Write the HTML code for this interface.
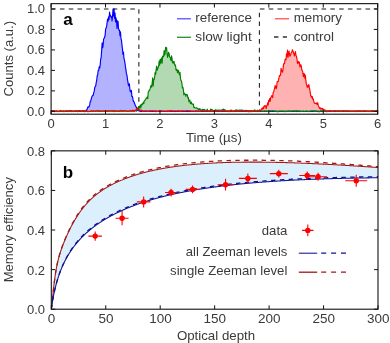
<!DOCTYPE html>
<html><head><meta charset="utf-8"><title>fig</title><style>html,body{margin:0;padding:0;background:#fff}</style></head><body>
<svg width="390" height="343" viewBox="0 0 390 343" style="display:block;will-change:transform">
<rect width="390" height="343" fill="#fff"/>
<defs><clipPath id="ca"><rect x="51.1" y="3.65" width="326.59999999999997" height="110.55"/></clipPath><clipPath id="cb"><rect x="51.3" y="150.85" width="326.7" height="158.35"/></clipPath></defs>
<g clip-path="url(#ca)">
<path d="M51.1,111.21 L51.6,111.17 L52.09,111.21 L52.59,111.32 L53.08,111.37 L53.58,111.41 L54.07,111.32 L54.57,111.28 L55.06,111.47 L55.56,111.49 L56.06,111.39 L56.55,111.43 L57.05,111.43 L57.54,111.47 L58.04,111.34 L58.53,111.3 L59.03,111.44 L59.53,111.38 L60.02,111.52 L60.52,111.51 L61.01,111.52 L61.51,111.4 L62,111.48 L62.5,111.36 L62.99,111.34 L63.49,111.38 L63.99,111.62 L64.48,111.46 L64.98,111.42 L65.47,111.33 L65.97,111.46 L66.46,111.34 L66.96,111.33 L67.45,111.25 L67.95,111.17 L68.45,111.36 L68.94,111.26 L69.44,111.19 L69.93,111.35 L70.43,111.32 L70.92,111.24 L71.42,111.23 L71.92,111.33 L72.41,111.22 L72.91,111.16 L73.4,111.43 L73.9,111.29 L74.39,111.35 L74.89,111.42 L75.38,111.15 L75.88,111.32 L76.38,111.46 L76.87,111.39 L77.37,111.38 L77.86,111.45 L78.36,111.34 L78.85,111.47 L79.35,111.36 L79.84,111.28 L80.34,111.41 L80.84,111.27 L81.33,111.26 L81.83,111.3 L82.32,111.44 L82.82,111.45 L83.31,111.49 L83.81,111.4 L84.31,111.38 L84.8,111.66 L85.3,111.33 L85.79,110.33 L86.29,111.05 L86.78,109.56 L87.28,108.83 L87.77,107.09 L88.27,106.86 L88.77,107.16 L89.26,106.27 L89.76,104.69 L90.25,101.23 L90.75,101.21 L91.24,98.95 L91.74,97.02 L92.23,96.15 L92.73,95.44 L93.23,95.51 L93.72,92.78 L94.22,91.17 L94.71,87.79 L95.21,86.48 L95.7,85.91 L96.2,82.6 L96.7,80.72 L97.19,75.62 L97.69,75.04 L98.18,70.28 L98.68,70.47 L99.17,66.72 L99.67,68.22 L100.16,65.37 L100.66,58.96 L101.16,57.82 L101.65,50.39 L102.15,42.81 L102.64,47.83 L103.14,45.05 L103.63,38.93 L104.13,38.32 L104.62,37.28 L105.12,35.24 L105.62,29.13 L106.11,27.92 L106.61,26.74 L107.1,22.68 L107.6,19.03 L108.09,21.14 L108.59,16.82 L109.09,19.36 L109.58,11.96 L110.08,15.91 L110.57,15.34 L111.07,17.49 L111.56,16.76 L112.06,20.82 L112.55,15.75 L113.05,9.44 L113.55,16 L114.04,8.59 L114.54,18.3 L115.03,13.13 L115.53,21.88 L116.02,17.92 L116.52,20.58 L117.01,28.35 L117.51,20.82 L118.01,21.41 L118.5,28 L119,30.29 L119.49,30.16 L119.99,35.58 L120.48,31.72 L120.98,38.76 L121.48,40.18 L121.97,45.14 L122.47,48.89 L122.96,54.46 L123.46,52.07 L123.95,58.35 L124.45,60.1 L124.94,62.81 L125.44,66.92 L125.94,69.57 L126.43,73.96 L126.93,74.79 L127.42,79.07 L127.92,81.81 L128.41,85.19 L128.91,85.85 L129.4,83.72 L129.9,89.7 L130.4,91.85 L130.89,91.37 L131.39,90.39 L131.88,96.46 L132.38,96.43 L132.87,98.74 L133.37,101.41 L133.87,101.38 L134.36,103.15 L134.86,104.02 L135.35,105.77 L135.85,106.18 L136.34,107.58 L136.84,108.41 L137.33,109.95 L137.83,110.41 L138.33,109.4 L138.82,110.72 L139.32,110.77 L139.81,111.16 L140.31,111.44 L140.8,111.42 L141.3,111.32 L141.79,111.38 L142.29,111.33 L142.79,111.36 L143.28,111.31 L143.78,111.37 L144.27,111.33 L144.77,111.42 L145.26,111.44 L145.76,111.23 L146.26,111.18 L146.75,111.33 L147.25,111.28 L147.74,111.23 L148.24,111.19 L148.73,111.22 L149.23,111.32 L149.72,111.14 L150.22,111.4 L150.72,111.27 L151.21,111.33 L151.71,111.31 L152.2,111.23 L152.7,111.29 L153.19,111.46 L153.69,111.45 L154.18,111.21 L154.68,111.39 L155.18,111.29 L155.67,111.2 L156.17,111.39 L156.66,111.44 L157.16,111.21 L157.65,111.21 L158.15,111.31 L158.65,111.32 L159.14,111.38 L159.64,111.42 L160.13,111.37 L160.63,111.4 L161.12,111.46 L161.62,111.3 L162.11,111.37 L162.61,111.35 L163.11,111.47 L163.6,111.41 L164.1,111.47 L164.59,111.46 L165.09,111.33 L165.58,111.43 L166.08,111.36 L166.57,111.36 L167.07,111.19 L167.57,111.42 L168.06,111.15 L168.56,111.24 L169.05,111.19 L169.55,111.33 L170.04,111.31 L170.54,111.23 L171.04,111.32 L171.53,111.3 L172.03,111.34 L172.52,111.18 L173.02,111.32 L173.51,111.48 L174.01,111.38 L174.5,111.46 L175,111.6 L175.5,111.37 L175.99,111.21 L176.49,111.38 L176.98,111.48 L177.48,111.44 L177.97,111.28 L178.47,111.35 L178.96,111.27 L179.46,111.31 L179.96,111.34 L180.45,111.29 L180.95,111.28 L181.44,111.37 L181.94,111.43 L182.43,111.3 L182.93,111.43 L183.43,111.28 L183.92,111.44 L184.42,111.41 L184.91,111.39 L185.41,111.45 L185.9,111.2 L186.4,111.23 L186.89,111.34 L187.39,111.21 L187.89,111.28 L188.38,111.55 L188.88,111.31 L189.37,111.36 L189.87,111.38 L190.36,111.46 L190.86,111.4 L191.35,111.41 L191.85,111.29 L192.35,111.32 L192.84,111.34 L193.34,111.19 L193.83,111.31 L194.33,111.27 L194.82,111.36 L195.32,111.11 L195.82,111.16 L196.31,111.21 L196.81,111.19 L197.3,111.25 L197.8,111.27 L198.29,111.36 L198.79,111.33 L199.28,111.34 L199.78,111.25 L200.28,111.27 L200.77,111.28 L201.27,111.33 L201.76,111.36 L202.26,111.16 L202.75,111.31 L203.25,111.35 L203.74,111.43 L204.24,111.46 L204.74,111.41 L205.23,111.29 L205.73,111.4 L206.22,111.39 L206.72,111.44 L207.21,111.45 L207.71,111.56 L208.21,111.45 L208.7,111.45 L209.2,111.28 L209.69,111.35 L210.19,111.24 L210.68,111.17 L211.18,111.34 L211.67,111.33 L212.17,111.3 L212.67,111.32 L213.16,111.41 L213.66,111.3 L214.15,111.23 L214.65,111.38 L215.14,111.38 L215.64,111.43 L216.13,111.34 L216.63,111.44 L217.13,111.44 L217.62,111.25 L218.12,111.38 L218.61,111.19 L219.11,111.11 L219.6,111.2 L220.1,111.18 L220.59,111.13 L221.09,111.31 L221.59,111.39 L222.08,111.47 L222.58,111.35 L223.07,111.27 L223.57,111.33 L224.06,111.55 L224.56,111.53 L225.06,111.52 L225.55,111.42 L226.05,111.46 L226.54,111.36 L227.04,111.4 L227.53,111.48 L228.03,111.47 L228.52,111.5 L229.02,111.56 L229.52,111.43 L230.01,111.29 L230.51,111.35 L231,111.38 L231.5,111.49 L231.99,111.37 L232.49,111.53 L232.98,111.49 L233.48,111.22 L233.98,111.23 L234.47,111.29 L234.97,111.44 L235.46,111.33 L235.96,111.41 L236.45,111.29 L236.95,111.16 L237.45,111.25 L237.94,111.41 L238.44,111.44 L238.93,111.35 L239.43,111.36 L239.92,111.51 L240.42,111.36 L240.91,111.5 L241.41,111.33 L241.91,111.26 L242.4,111.2 L242.9,111.36 L243.39,111.26 L243.89,111.33 L244.38,111.39 L244.88,111.44 L245.37,111.51 L245.87,111.47 L246.37,111.25 L246.86,111.37 L247.36,111.34 L247.85,111.3 L248.35,111.57 L248.84,111.58 L249.34,111.47 L249.84,111.44 L250.33,111.44 L250.83,111.26 L251.32,111.23 L251.82,111.4 L252.31,111.34 L252.81,111.18 L253.3,111.28 L253.8,111.53 L254.3,111.23 L254.79,111.36 L255.29,111.29 L255.78,111.48 L256.28,111.48 L256.77,111.55 L257.27,111.21 L257.76,111.47 L258.26,111.25 L258.76,111.41 L259.25,111.31 L259.75,111.51 L260.24,111.41 L260.74,111.32 L261.23,111.5 L261.73,111.33 L262.23,111.36 L262.72,111.49 L263.22,111.4 L263.71,111.39 L264.21,111.38 L264.7,111.34 L265.2,111.29 L265.69,111.3 L266.19,111.37 L266.69,111.3 L267.18,111.23 L267.68,111.21 L268.17,111.38 L268.67,111.27 L269.16,111.4 L269.66,111.47 L270.15,111.3 L270.65,111.42 L271.15,111.25 L271.64,111.46 L272.14,111.36 L272.63,111.45 L273.13,111.49 L273.62,111.34 L274.12,111.35 L274.62,111.28 L275.11,111.3 L275.61,111.37 L276.1,111.33 L276.6,111.33 L277.09,111.25 L277.59,111.44 L278.08,111.34 L278.58,111.47 L279.08,111.29 L279.57,111.46 L280.07,111.51 L280.56,111.4 L281.06,111.33 L281.55,111.49 L282.05,111.46 L282.54,111.48 L283.04,111.53 L283.54,111.45 L284.03,111.58 L284.53,111.52 L285.02,111.33 L285.52,111.46 L286.01,111.33 L286.51,111.39 L287.01,111.43 L287.5,111.5 L288,111.13 L288.49,111.22 L288.99,111.19 L289.48,111.22 L289.98,111.19 L290.47,111.21 L290.97,111.14 L291.47,111.45 L291.96,111.5 L292.46,111.49 L292.95,111.53 L293.45,111.34 L293.94,111.24 L294.44,111.41 L294.93,111.43 L295.43,111.34 L295.93,111.19 L296.42,111.57 L296.92,111.29 L297.41,111.44 L297.91,111.31 L298.4,111.52 L298.9,111.47 L299.4,111.55 L299.89,111.51 L300.39,111.28 L300.88,111.3 L301.38,111.41 L301.87,111.46 L302.37,111.52 L302.86,111.44 L303.36,111.44 L303.86,111.42 L304.35,111.46 L304.85,111.55 L305.34,111.41 L305.84,111.38 L306.33,111.34 L306.83,111.23 L307.32,111.39 L307.82,111.45 L308.32,111.43 L308.81,111.46 L309.31,111.49 L309.8,111.45 L310.3,111.52 L310.79,111.32 L311.29,111.35 L311.79,111.31 L312.28,111.3 L312.78,111.32 L313.27,111.33 L313.77,111.26 L314.26,111.27 L314.76,111.24 L315.25,111.27 L315.75,111.45 L316.25,111.36 L316.74,111.49 L317.24,111.43 L317.73,111.48 L318.23,111.61 L318.72,111.44 L319.22,111.4 L319.71,111.38 L320.21,111.36 L320.71,111.34 L321.2,111.41 L321.7,111.36 L322.19,111.42 L322.69,111.35 L323.18,111.4 L323.68,111.26 L324.18,111.32 L324.67,111.36 L325.17,111.44 L325.66,111.44 L326.16,111.59 L326.65,111.37 L327.15,111.4 L327.64,111.34 L328.14,111.27 L328.64,111.4 L329.13,111.39 L329.63,111.28 L330.12,111.31 L330.62,111.35 L331.11,111.44 L331.61,111.22 L332.1,111.13 L332.6,111.11 L333.1,111.18 L333.59,111.4 L334.09,111.23 L334.58,111.34 L335.08,111.59 L335.57,111.34 L336.07,111.46 L336.57,111.47 L337.06,111.38 L337.56,111.2 L338.05,111.35 L338.55,111.26 L339.04,111.09 L339.54,111.13 L340.03,111.36 L340.53,111.39 L341.03,111.51 L341.52,111.52 L342.02,111.44 L342.51,111.34 L343.01,111.36 L343.5,111.3 L344,111.36 L344.49,111.32 L344.99,111.33 L345.49,111.32 L345.98,111.23 L346.48,111.36 L346.97,111.39 L347.47,111.31 L347.96,111.46 L348.46,111.52 L348.96,111.29 L349.45,111.38 L349.95,111.33 L350.44,111.47 L350.94,111.29 L351.43,111.35 L351.93,111.32 L352.42,111.44 L352.92,111.29 L353.42,111.24 L353.91,111.24 L354.41,111.32 L354.9,111.27 L355.4,111.22 L355.89,111.54 L356.39,111.33 L356.88,111.3 L357.38,111.26 L357.88,111.15 L358.37,111.15 L358.87,111.19 L359.36,111.2 L359.86,111.24 L360.35,111.39 L360.85,111.42 L361.35,111.34 L361.84,111.28 L362.34,111.38 L362.83,111.32 L363.33,111.22 L363.82,111.14 L364.32,111.23 L364.81,111.15 L365.31,111.36 L365.81,111.34 L366.3,111.38 L366.8,111.3 L367.29,111.23 L367.79,111.49 L368.28,111.44 L368.78,111.34 L369.27,111.42 L369.77,111.51 L370.27,111.26 L370.76,111.29 L371.26,111.31 L371.75,111.36 L372.25,111.28 L372.74,111.36 L373.24,111.27 L373.74,111.46 L374.23,111.51 L374.73,111.4 L375.22,111.45 L375.72,111.33 L376.21,111.29 L376.71,111.4 L377.2,111.29 L377.7,111.31 L377.7,111.35 L51.1,111.35 Z" fill="#0000ff" fill-opacity="0.3"/>
<path d="M51.1,111.34 L51.6,110.89 L52.09,110.58 L52.59,110.99 L53.08,111.15 L53.58,111.36 L54.07,111.56 L54.57,111.01 L55.06,111.56 L55.56,111.32 L56.06,111.11 L56.55,111 L57.05,111.15 L57.54,111.24 L58.04,111.47 L58.53,111.58 L59.03,111.38 L59.53,111.51 L60.02,111.49 L60.52,111.45 L61.01,111.32 L61.51,111.57 L62,111.37 L62.5,111.4 L62.99,110.99 L63.49,111.08 L63.99,110.74 L64.48,111.49 L64.98,111.28 L65.47,110.95 L65.97,110.97 L66.46,110.96 L66.96,110.63 L67.45,111.16 L67.95,111.32 L68.45,111.55 L68.94,111.1 L69.44,111 L69.93,111.43 L70.43,111.47 L70.92,111.03 L71.42,111.13 L71.92,111.63 L72.41,111.24 L72.91,111.15 L73.4,111.68 L73.9,111.19 L74.39,110.87 L74.89,111.18 L75.38,111.51 L75.88,111.16 L76.38,111.15 L76.87,110.96 L77.37,111.72 L77.86,110.78 L78.36,111.36 L78.85,110.82 L79.35,110.73 L79.84,110.71 L80.34,110.82 L80.84,111.1 L81.33,110.79 L81.83,111 L82.32,111.47 L82.82,110.42 L83.31,111.05 L83.81,110.85 L84.31,111.5 L84.8,110.85 L85.3,110.85 L85.79,110.76 L86.29,111.08 L86.78,111.41 L87.28,111.38 L87.77,111.75 L88.27,111.76 L88.77,111.37 L89.26,111.54 L89.76,111.33 L90.25,111.39 L90.75,110.95 L91.24,110.96 L91.74,111.33 L92.23,110.92 L92.73,111.22 L93.23,111.05 L93.72,111.01 L94.22,111.28 L94.71,111.08 L95.21,111.39 L95.7,111.09 L96.2,110.63 L96.7,111.17 L97.19,110.95 L97.69,111.16 L98.18,111.15 L98.68,111.33 L99.17,110.65 L99.67,110.66 L100.16,111.15 L100.66,111.44 L101.16,111.08 L101.65,111.3 L102.15,111.04 L102.64,111 L103.14,110.95 L103.63,110.76 L104.13,111.14 L104.62,111.01 L105.12,111.25 L105.62,111.04 L106.11,111.35 L106.61,111.08 L107.1,111.38 L107.6,111.12 L108.09,111.12 L108.59,111.43 L109.09,111.24 L109.58,111.21 L110.08,111 L110.57,110.72 L111.07,110.95 L111.56,111.21 L112.06,110.81 L112.55,111.3 L113.05,110.71 L113.55,111.16 L114.04,111.76 L114.54,110.61 L115.03,110.89 L115.53,111.41 L116.02,111.1 L116.52,111.03 L117.01,111.21 L117.51,111.54 L118.01,111.45 L118.5,111.22 L119,111.15 L119.49,110.79 L119.99,111.02 L120.48,110.47 L120.98,111.14 L121.48,111.07 L121.97,111.39 L122.47,111.33 L122.96,110.68 L123.46,111.23 L123.95,110.95 L124.45,111.08 L124.94,111.17 L125.44,111.2 L125.94,111.22 L126.43,111.26 L126.93,111.09 L127.42,111.08 L127.92,111.36 L128.41,111.34 L128.91,111.03 L129.4,111.06 L129.9,110.88 L130.4,110.35 L130.89,110.72 L131.39,110.89 L131.88,110.91 L132.38,110.96 L132.87,111.13 L133.37,110.93 L133.87,110.66 L134.36,110.61 L134.86,110.29 L135.35,110.64 L135.85,110.62 L136.34,111.06 L136.84,108.97 L137.33,109.47 L137.83,107.56 L138.33,107.68 L138.82,106.64 L139.32,107.8 L139.81,106.4 L140.31,104.94 L140.8,108 L141.3,105.27 L141.79,104.01 L142.29,104.8 L142.79,103.5 L143.28,102.37 L143.78,103.66 L144.27,100.93 L144.77,100.8 L145.26,99.72 L145.76,99.04 L146.26,98.14 L146.75,98.33 L147.25,96.86 L147.74,98.69 L148.24,91.88 L148.73,91.52 L149.23,90.07 L149.72,90.18 L150.22,88.44 L150.72,86.29 L151.21,85.27 L151.71,87.12 L152.2,82.89 L152.7,77.77 L153.19,85.83 L153.69,79.48 L154.18,79.53 L154.68,76.76 L155.18,72.27 L155.67,74.48 L156.17,69.15 L156.66,66.05 L157.16,70.2 L157.65,68.81 L158.15,67.53 L158.65,66.3 L159.14,61.16 L159.64,65.1 L160.13,59.44 L160.63,63.25 L161.12,59.1 L161.62,57.84 L162.11,63.1 L162.61,56.05 L163.11,56.91 L163.6,56.5 L164.1,50.61 L164.59,54.98 L165.09,54.02 L165.58,47.29 L166.08,49.88 L166.57,47.55 L167.07,53.09 L167.57,57.45 L168.06,55.66 L168.56,52.26 L169.05,53.37 L169.55,57.03 L170.04,57.13 L170.54,58.85 L171.04,60.61 L171.53,55.83 L172.03,58.36 L172.52,62.81 L173.02,63.14 L173.51,61.49 L174.01,61.38 L174.5,64.2 L175,65.49 L175.5,65 L175.99,69.77 L176.49,70.38 L176.98,69.37 L177.48,72.69 L177.97,70.91 L178.47,70.35 L178.96,73.25 L179.46,74.91 L179.96,72.31 L180.45,78.1 L180.95,80.76 L181.44,80.83 L181.94,83.69 L182.43,88.04 L182.93,87.31 L183.43,90.15 L183.92,94.88 L184.42,93.29 L184.91,93.94 L185.41,94.24 L185.9,96.3 L186.4,94.29 L186.89,94.76 L187.39,94.79 L187.89,98.16 L188.38,97.5 L188.88,101.59 L189.37,100.9 L189.87,99.95 L190.36,103.51 L190.86,103.42 L191.35,102.1 L191.85,103.95 L192.35,104.34 L192.84,104.14 L193.34,103.99 L193.83,107.47 L194.33,107.15 L194.82,107.81 L195.32,107.96 L195.82,107.98 L196.31,107.93 L196.81,107.66 L197.3,108.81 L197.8,108.64 L198.29,108.81 L198.79,110.14 L199.28,109.55 L199.78,108.62 L200.28,109.47 L200.77,110.41 L201.27,109.87 L201.76,110.07 L202.26,109.69 L202.75,109.27 L203.25,110.1 L203.74,109.83 L204.24,109.35 L204.74,110.25 L205.23,110.11 L205.73,110.76 L206.22,110.82 L206.72,110.6 L207.21,109.11 L207.71,110.45 L208.21,111.01 L208.7,111.05 L209.2,111.21 L209.69,110.77 L210.19,110.73 L210.68,109.16 L211.18,110.16 L211.67,109.28 L212.17,109.93 L212.67,110.06 L213.16,111.21 L213.66,110.66 L214.15,110.42 L214.65,110.49 L215.14,111.18 L215.64,109.67 L216.13,110.13 L216.63,110.38 L217.13,110.23 L217.62,110.24 L218.12,109.87 L218.61,110.79 L219.11,110.74 L219.6,109.98 L220.1,110.23 L220.59,110.57 L221.09,110.33 L221.59,110.17 L222.08,110 L222.58,109.45 L223.07,110.08 L223.57,109.07 L224.06,109.48 L224.56,110.19 L225.06,109.79 L225.55,111.38 L226.05,111.5 L226.54,111.33 L227.04,110.95 L227.53,110.88 L228.03,110.99 L228.52,110.83 L229.02,111.76 L229.52,110.77 L230.01,111.28 L230.51,110.32 L231,110.04 L231.5,110.24 L231.99,110.61 L232.49,111.13 L232.98,111.2 L233.48,111.1 L233.98,110.88 L234.47,111.35 L234.97,110.68 L235.46,110.63 L235.96,109.92 L236.45,110.93 L236.95,109.77 L237.45,110.66 L237.94,111.02 L238.44,110.42 L238.93,110.15 L239.43,110.19 L239.92,110 L240.42,110.18 L240.91,109.99 L241.41,110.16 L241.91,110.85 L242.4,109.98 L242.9,110.59 L243.39,110.48 L243.89,110.88 L244.38,110.64 L244.88,110.29 L245.37,111.16 L245.87,110.37 L246.37,110.57 L246.86,110.52 L247.36,111.57 L247.85,110.86 L248.35,110.55 L248.84,111.23 L249.34,110.84 L249.84,111.72 L250.33,110.53 L250.83,111.31 L251.32,110.64 L251.82,111.76 L252.31,111.13 L252.81,111.18 L253.3,110.68 L253.8,111.24 L254.3,111.07 L254.79,109.77 L255.29,111.16 L255.78,111.09 L256.28,110.9 L256.77,111.13 L257.27,110.38 L257.76,110.22 L258.26,111.14 L258.76,111.56 L259.25,110.5 L259.75,111.03 L260.24,110.98 L260.74,110.75 L261.23,111.21 L261.73,111.02 L262.23,111.19 L262.72,111.41 L263.22,111.08 L263.71,111.45 L264.21,110.77 L264.7,111.27 L265.2,111.29 L265.69,111.02 L266.19,110.76 L266.69,111.16 L267.18,111.49 L267.68,111.21 L268.17,111 L268.67,111.34 L269.16,111.23 L269.66,110.81 L270.15,110.88 L270.65,111.03 L271.15,110.87 L271.64,110.97 L272.14,110.73 L272.63,110.79 L273.13,110.64 L273.62,110.79 L274.12,111.35 L274.62,111.01 L275.11,110.95 L275.61,111.2 L276.1,111.14 L276.6,111.63 L277.09,111.72 L277.59,111.28 L278.08,111.66 L278.58,111.76 L279.08,110.94 L279.57,111.29 L280.07,111.1 L280.56,111.07 L281.06,111.19 L281.55,111.14 L282.05,110.96 L282.54,110.89 L283.04,111.5 L283.54,110.85 L284.03,111.35 L284.53,111.42 L285.02,111.14 L285.52,111.37 L286.01,111.72 L286.51,111.05 L287.01,111.51 L287.5,111.24 L288,111.21 L288.49,111 L288.99,111.36 L289.48,111.14 L289.98,111.49 L290.47,111.18 L290.97,111.37 L291.47,111.24 L291.96,110.73 L292.46,111.06 L292.95,111.01 L293.45,110.67 L293.94,110.98 L294.44,111.19 L294.93,110.86 L295.43,111.3 L295.93,110.76 L296.42,110.75 L296.92,111.08 L297.41,111.07 L297.91,110.85 L298.4,110.91 L298.9,111.1 L299.4,110.85 L299.89,111.55 L300.39,111.19 L300.88,111.19 L301.38,111.33 L301.87,111.22 L302.37,111.45 L302.86,111.03 L303.36,111.16 L303.86,111.28 L304.35,111.38 L304.85,111.31 L305.34,111 L305.84,111.38 L306.33,111.22 L306.83,111.05 L307.32,111.05 L307.82,111.1 L308.32,111.56 L308.81,111.53 L309.31,110.99 L309.8,111.24 L310.3,110.97 L310.79,111.09 L311.29,110.71 L311.79,110.87 L312.28,110.78 L312.78,110.83 L313.27,110.77 L313.77,111.01 L314.26,110.99 L314.76,110.86 L315.25,111.36 L315.75,110.8 L316.25,111.16 L316.74,111.03 L317.24,111.19 L317.73,111.21 L318.23,110.97 L318.72,111.46 L319.22,111.65 L319.71,111.56 L320.21,111.29 L320.71,110.72 L321.2,111.06 L321.7,110.83 L322.19,111.31 L322.69,111.09 L323.18,111.06 L323.68,110.79 L324.18,111.31 L324.67,110.97 L325.17,111.13 L325.66,111.33 L326.16,111.25 L326.65,111.29 L327.15,111.72 L327.64,111.08 L328.14,111.04 L328.64,111.14 L329.13,111.41 L329.63,110.75 L330.12,110.96 L330.62,110.89 L331.11,110.85 L331.61,111.26 L332.1,111.09 L332.6,111.3 L333.1,111.14 L333.59,111.05 L334.09,111 L334.58,110.63 L335.08,110.82 L335.57,110.96 L336.07,111.03 L336.57,110.86 L337.06,111.06 L337.56,110.96 L338.05,110.97 L338.55,111.05 L339.04,111.01 L339.54,111.3 L340.03,110.98 L340.53,110.97 L341.03,111.18 L341.52,111.2 L342.02,110.65 L342.51,110.72 L343.01,110.87 L343.5,110.78 L344,110.89 L344.49,110.75 L344.99,111.09 L345.49,110.63 L345.98,111.39 L346.48,110.99 L346.97,111.33 L347.47,110.88 L347.96,111.32 L348.46,111.2 L348.96,111.13 L349.45,111.13 L349.95,111.43 L350.44,111.41 L350.94,111.58 L351.43,111.12 L351.93,111.05 L352.42,111.3 L352.92,111.29 L353.42,111.24 L353.91,111.3 L354.41,111.12 L354.9,110.92 L355.4,111.53 L355.89,111.09 L356.39,111.18 L356.88,111 L357.38,111.18 L357.88,111.08 L358.37,111.28 L358.87,111.04 L359.36,111.11 L359.86,111.2 L360.35,111.18 L360.85,111.35 L361.35,111.53 L361.84,111.12 L362.34,111.15 L362.83,111.26 L363.33,111.04 L363.82,110.97 L364.32,111.39 L364.81,111.28 L365.31,110.79 L365.81,110.92 L366.3,111.37 L366.8,111.45 L367.29,111.27 L367.79,111.12 L368.28,111.29 L368.78,110.92 L369.27,111.28 L369.77,111.52 L370.27,110.94 L370.76,111.19 L371.26,111.07 L371.75,110.83 L372.25,110.56 L372.74,110.96 L373.24,110.82 L373.74,111.12 L374.23,110.73 L374.73,110.98 L375.22,111.25 L375.72,111.08 L376.21,110.84 L376.71,110.79 L377.2,110.65 L377.7,110.74 L377.7,111.35 L51.1,111.35 Z" fill="#008000" fill-opacity="0.3"/>
<path d="M51.1,110.97 L51.6,110.82 L52.09,110.99 L52.59,110.86 L53.08,111.2 L53.58,110.88 L54.07,110.59 L54.57,111.13 L55.06,111.17 L55.56,111.05 L56.06,111.04 L56.55,111.14 L57.05,111.54 L57.54,111.1 L58.04,111.31 L58.53,111.36 L59.03,110.97 L59.53,111.05 L60.02,110.87 L60.52,110.42 L61.01,110.74 L61.51,110.88 L62,111.05 L62.5,111.06 L62.99,111.2 L63.49,111.06 L63.99,111.19 L64.48,111.25 L64.98,111.08 L65.47,111.07 L65.97,111.25 L66.46,111.18 L66.96,110.81 L67.45,110.9 L67.95,110.94 L68.45,110.86 L68.94,111.1 L69.44,110.93 L69.93,111.25 L70.43,110.44 L70.92,110.64 L71.42,110.88 L71.92,111.15 L72.41,110.94 L72.91,111.4 L73.4,111.25 L73.9,110.99 L74.39,111.09 L74.89,111.09 L75.38,110.72 L75.88,111.07 L76.38,110.82 L76.87,110.92 L77.37,111 L77.86,110.87 L78.36,111.1 L78.85,110.62 L79.35,111.05 L79.84,110.72 L80.34,111.26 L80.84,111 L81.33,111.28 L81.83,111.31 L82.32,110.91 L82.82,110.86 L83.31,111.11 L83.81,110.75 L84.31,111.08 L84.8,110.99 L85.3,110.93 L85.79,110.95 L86.29,111.27 L86.78,110.81 L87.28,110.97 L87.77,111.25 L88.27,111.29 L88.77,111.55 L89.26,111.47 L89.76,111.24 L90.25,111.21 L90.75,111.51 L91.24,111.27 L91.74,110.87 L92.23,111.22 L92.73,111.38 L93.23,110.91 L93.72,111.09 L94.22,111.08 L94.71,111.11 L95.21,111.26 L95.7,111.25 L96.2,111.1 L96.7,110.99 L97.19,110.84 L97.69,110.8 L98.18,110.87 L98.68,110.94 L99.17,111.19 L99.67,111.48 L100.16,111.25 L100.66,111.3 L101.16,111.23 L101.65,111.13 L102.15,111.38 L102.64,111.28 L103.14,111.05 L103.63,111.05 L104.13,111.35 L104.62,110.97 L105.12,111.02 L105.62,111.26 L106.11,111.1 L106.61,110.67 L107.1,111.07 L107.6,110.85 L108.09,110.89 L108.59,110.69 L109.09,111.18 L109.58,110.69 L110.08,111.01 L110.57,110.97 L111.07,111.08 L111.56,110.83 L112.06,110.91 L112.55,111.08 L113.05,110.85 L113.55,111.08 L114.04,111.24 L114.54,111.08 L115.03,110.97 L115.53,110.85 L116.02,111.35 L116.52,110.97 L117.01,111.02 L117.51,110.81 L118.01,111.33 L118.5,111.11 L119,111.19 L119.49,111.41 L119.99,111.15 L120.48,110.81 L120.98,111.06 L121.48,111.05 L121.97,110.73 L122.47,110.73 L122.96,110.72 L123.46,110.92 L123.95,110.74 L124.45,110.57 L124.94,110.97 L125.44,110.96 L125.94,110.75 L126.43,110.71 L126.93,111.29 L127.42,111.55 L127.92,111.47 L128.41,111.38 L128.91,111.16 L129.4,111 L129.9,110.95 L130.4,111.12 L130.89,110.94 L131.39,111.22 L131.88,110.89 L132.38,111.16 L132.87,110.12 L133.37,110.77 L133.87,111.55 L134.36,111.34 L134.86,110.78 L135.35,110.68 L135.85,109.73 L136.34,109.33 L136.84,108.27 L137.33,109.14 L137.83,109.51 L138.33,110 L138.82,110.19 L139.32,109.93 L139.81,110.2 L140.31,110 L140.8,110.84 L141.3,110.08 L141.79,110.55 L142.29,110.77 L142.79,111.52 L143.28,111.42 L143.78,111.12 L144.27,111.11 L144.77,111.31 L145.26,111.01 L145.76,111.27 L146.26,111.26 L146.75,111.24 L147.25,110.91 L147.74,111.15 L148.24,111.23 L148.73,111.11 L149.23,110.89 L149.72,110.95 L150.22,111.07 L150.72,110.66 L151.21,111.05 L151.71,111.07 L152.2,110.9 L152.7,110.95 L153.19,111 L153.69,110.82 L154.18,111.23 L154.68,111.15 L155.18,111.55 L155.67,110.95 L156.17,111.54 L156.66,110.93 L157.16,111.2 L157.65,111.2 L158.15,111.12 L158.65,111.07 L159.14,111.1 L159.64,110.83 L160.13,110.97 L160.63,110.87 L161.12,111.2 L161.62,111.04 L162.11,111.17 L162.61,111.31 L163.11,111.27 L163.6,111.23 L164.1,111.1 L164.59,111 L165.09,111.18 L165.58,111.2 L166.08,110.96 L166.57,111.4 L167.07,111.24 L167.57,110.9 L168.06,111.55 L168.56,111.35 L169.05,110.99 L169.55,111.41 L170.04,110.5 L170.54,111.36 L171.04,110.64 L171.53,110.77 L172.03,110.94 L172.52,111.14 L173.02,111.01 L173.51,111.17 L174.01,110.74 L174.5,111.05 L175,111 L175.5,110.78 L175.99,111.17 L176.49,111.05 L176.98,110.92 L177.48,111.17 L177.97,110.77 L178.47,110.98 L178.96,111.4 L179.46,111.1 L179.96,111.37 L180.45,111.31 L180.95,111.02 L181.44,111.13 L181.94,110.95 L182.43,111.13 L182.93,110.73 L183.43,111.07 L183.92,110.85 L184.42,111.03 L184.91,111.05 L185.41,111.05 L185.9,110.72 L186.4,110.73 L186.89,110.55 L187.39,110.65 L187.89,111.01 L188.38,111.05 L188.88,110.9 L189.37,111.03 L189.87,110.75 L190.36,110.89 L190.86,111.28 L191.35,111.35 L191.85,110.92 L192.35,111.19 L192.84,111.27 L193.34,111.09 L193.83,111.28 L194.33,111.22 L194.82,111.27 L195.32,111.55 L195.82,111.03 L196.31,111.36 L196.81,111.4 L197.3,111.39 L197.8,111.18 L198.29,111.3 L198.79,111.29 L199.28,111.48 L199.78,111.16 L200.28,111.36 L200.77,110.9 L201.27,110.89 L201.76,110.85 L202.26,110.57 L202.75,110.85 L203.25,110.89 L203.74,111.04 L204.24,111.19 L204.74,110.88 L205.23,110.86 L205.73,111.31 L206.22,110.88 L206.72,110.93 L207.21,110.91 L207.71,110.89 L208.21,111.29 L208.7,111.22 L209.2,110.64 L209.69,110.83 L210.19,111.13 L210.68,110.73 L211.18,111.08 L211.67,111.36 L212.17,111.52 L212.67,111.42 L213.16,111.13 L213.66,111.11 L214.15,111.23 L214.65,111.08 L215.14,110.94 L215.64,111.45 L216.13,111.1 L216.63,111.07 L217.13,111.24 L217.62,111.07 L218.12,110.96 L218.61,110.98 L219.11,111.22 L219.6,110.89 L220.1,110.65 L220.59,111.12 L221.09,111.19 L221.59,110.81 L222.08,110.88 L222.58,110.91 L223.07,111.26 L223.57,110.81 L224.06,111.09 L224.56,111.03 L225.06,110.79 L225.55,110.75 L226.05,110.69 L226.54,110.85 L227.04,111.12 L227.53,111.01 L228.03,111.3 L228.52,111.11 L229.02,111.51 L229.52,111.33 L230.01,110.85 L230.51,111.11 L231,110.89 L231.5,110.93 L231.99,111.19 L232.49,111.34 L232.98,110.89 L233.48,111.55 L233.98,110.98 L234.47,110.69 L234.97,110.93 L235.46,111 L235.96,110.88 L236.45,110.66 L236.95,111.24 L237.45,111.06 L237.94,111.08 L238.44,111.02 L238.93,111.11 L239.43,110.91 L239.92,111.17 L240.42,111.07 L240.91,111.14 L241.41,111.02 L241.91,110.89 L242.4,110.79 L242.9,110.99 L243.39,110.57 L243.89,110.97 L244.38,111.26 L244.88,110.76 L245.37,111.06 L245.87,110.64 L246.37,110.67 L246.86,110.65 L247.36,110.7 L247.85,110.91 L248.35,110.95 L248.84,110.67 L249.34,111.39 L249.84,111.1 L250.33,111.01 L250.83,111.36 L251.32,111.28 L251.82,110.77 L252.31,111.11 L252.81,110.79 L253.3,111.01 L253.8,111.09 L254.3,111.01 L254.79,111.02 L255.29,110.86 L255.78,111.11 L256.28,111.21 L256.77,111.13 L257.27,110.99 L257.76,111.02 L258.26,111.26 L258.76,111.27 L259.25,110.6 L259.75,110.77 L260.24,110.19 L260.74,110.39 L261.23,109.46 L261.73,108.58 L262.23,108.15 L262.72,109.27 L263.22,107.07 L263.71,108.43 L264.21,105.76 L264.7,106.12 L265.2,105.63 L265.69,106.37 L266.19,108.54 L266.69,105.68 L267.18,105.43 L267.68,102.85 L268.17,105.06 L268.67,100.42 L269.16,101.38 L269.66,98.67 L270.15,101.36 L270.65,97.83 L271.15,97.03 L271.64,95.67 L272.14,96.05 L272.63,97.58 L273.13,92.82 L273.62,91.7 L274.12,90.17 L274.62,88.32 L275.11,85.6 L275.61,86.16 L276.1,88.65 L276.6,87.98 L277.09,81.7 L277.59,81.59 L278.08,81.56 L278.58,79.62 L279.08,77.34 L279.57,75.46 L280.07,75.64 L280.56,75.15 L281.06,68.34 L281.55,70.01 L282.05,71.2 L282.54,72.22 L283.04,68.86 L283.54,64.46 L284.03,63.29 L284.53,63.58 L285.02,59.7 L285.52,59.09 L286.01,59.8 L286.51,53.73 L287.01,56.26 L287.5,50.18 L288,57.48 L288.49,53.84 L288.99,50.98 L289.48,53.8 L289.98,56.27 L290.47,55.22 L290.97,53.54 L291.47,52.56 L291.96,51.45 L292.46,49.72 L292.95,51.3 L293.45,52.42 L293.94,53.98 L294.44,55.99 L294.93,53.7 L295.43,51.51 L295.93,55.38 L296.42,56.33 L296.92,58.51 L297.41,62.84 L297.91,63.66 L298.4,61.44 L298.9,62.49 L299.4,62.22 L299.89,67.03 L300.39,65.91 L300.88,64.67 L301.38,66.7 L301.87,70.36 L302.37,70.68 L302.86,72.38 L303.36,76.75 L303.86,73.53 L304.35,74 L304.85,78.06 L305.34,75.04 L305.84,80.44 L306.33,83.93 L306.83,85.49 L307.32,87.42 L307.82,85.54 L308.32,86.9 L308.81,84.47 L309.31,87.38 L309.8,89.65 L310.3,93.02 L310.79,96.06 L311.29,96 L311.79,97.63 L312.28,96.51 L312.78,99.36 L313.27,98.9 L313.77,101.19 L314.26,102.74 L314.76,103.37 L315.25,103.55 L315.75,103.39 L316.25,102.91 L316.74,104.28 L317.24,104.32 L317.73,102.69 L318.23,105.49 L318.72,106.45 L319.22,107.45 L319.71,108.63 L320.21,107.69 L320.71,108.91 L321.2,108.96 L321.7,108.54 L322.19,108.27 L322.69,110.04 L323.18,109.1 L323.68,109.55 L324.18,109.68 L324.67,109.94 L325.17,110.5 L325.66,110.37 L326.16,110.9 L326.65,111.05 L327.15,110.77 L327.64,110.82 L328.14,110.98 L328.64,110.96 L329.13,110.56 L329.63,110.88 L330.12,110.9 L330.62,111 L331.11,110.97 L331.61,111.25 L332.1,111.05 L332.6,110.99 L333.1,111.45 L333.59,110.95 L334.09,110.85 L334.58,110.95 L335.08,111.21 L335.57,110.7 L336.07,111.14 L336.57,111.27 L337.06,111.21 L337.56,111.13 L338.05,110.83 L338.55,110.83 L339.04,110.89 L339.54,111.23 L340.03,111.11 L340.53,111.38 L341.03,111.18 L341.52,111.5 L342.02,111.05 L342.51,110.97 L343.01,111.06 L343.5,110.94 L344,111.23 L344.49,111.47 L344.99,111.25 L345.49,110.97 L345.98,111.1 L346.48,111.25 L346.97,110.89 L347.47,111.14 L347.96,110.78 L348.46,110.85 L348.96,110.99 L349.45,110.75 L349.95,111.09 L350.44,111.13 L350.94,111.3 L351.43,111.01 L351.93,111.12 L352.42,111.06 L352.92,111.15 L353.42,110.88 L353.91,111.39 L354.41,111.23 L354.9,110.93 L355.4,110.8 L355.89,110.99 L356.39,111.19 L356.88,111.24 L357.38,111.02 L357.88,111.01 L358.37,110.71 L358.87,111.3 L359.36,110.77 L359.86,111.05 L360.35,110.83 L360.85,111 L361.35,110.79 L361.84,111.11 L362.34,111.22 L362.83,111.15 L363.33,111.12 L363.82,111.12 L364.32,110.69 L364.81,110.66 L365.31,111.02 L365.81,111.22 L366.3,111.09 L366.8,111.3 L367.29,111.02 L367.79,111.14 L368.28,111.1 L368.78,111.37 L369.27,111.55 L369.77,111.27 L370.27,111.19 L370.76,110.98 L371.26,110.97 L371.75,111.14 L372.25,110.98 L372.74,110.64 L373.24,111.1 L373.74,111.17 L374.23,111.06 L374.73,111.21 L375.22,111.27 L375.72,111.03 L376.21,110.71 L376.71,111.28 L377.2,110.96 L377.7,110.87 L377.7,111.35 L51.1,111.35 Z" fill="#ff0000" fill-opacity="0.3"/>
<path d="M51.1,8.95 L138.87,8.95 L138.87,111.35 L259.39,111.35 L259.39,8.95 L377.7,8.95" fill="none" stroke="#1a1a1a" stroke-width="1.05" stroke-dasharray="4.6,4.2"/>
<path d="M51.1,111.21 L51.6,111.17 L52.09,111.21 L52.59,111.32 L53.08,111.37 L53.58,111.41 L54.07,111.32 L54.57,111.28 L55.06,111.47 L55.56,111.49 L56.06,111.39 L56.55,111.43 L57.05,111.43 L57.54,111.47 L58.04,111.34 L58.53,111.3 L59.03,111.44 L59.53,111.38 L60.02,111.52 L60.52,111.51 L61.01,111.52 L61.51,111.4 L62,111.48 L62.5,111.36 L62.99,111.34 L63.49,111.38 L63.99,111.62 L64.48,111.46 L64.98,111.42 L65.47,111.33 L65.97,111.46 L66.46,111.34 L66.96,111.33 L67.45,111.25 L67.95,111.17 L68.45,111.36 L68.94,111.26 L69.44,111.19 L69.93,111.35 L70.43,111.32 L70.92,111.24 L71.42,111.23 L71.92,111.33 L72.41,111.22 L72.91,111.16 L73.4,111.43 L73.9,111.29 L74.39,111.35 L74.89,111.42 L75.38,111.15 L75.88,111.32 L76.38,111.46 L76.87,111.39 L77.37,111.38 L77.86,111.45 L78.36,111.34 L78.85,111.47 L79.35,111.36 L79.84,111.28 L80.34,111.41 L80.84,111.27 L81.33,111.26 L81.83,111.3 L82.32,111.44 L82.82,111.45 L83.31,111.49 L83.81,111.4 L84.31,111.38 L84.8,111.66 L85.3,111.33 L85.79,110.33 L86.29,111.05 L86.78,109.56 L87.28,108.83 L87.77,107.09 L88.27,106.86 L88.77,107.16 L89.26,106.27 L89.76,104.69 L90.25,101.23 L90.75,101.21 L91.24,98.95 L91.74,97.02 L92.23,96.15 L92.73,95.44 L93.23,95.51 L93.72,92.78 L94.22,91.17 L94.71,87.79 L95.21,86.48 L95.7,85.91 L96.2,82.6 L96.7,80.72 L97.19,75.62 L97.69,75.04 L98.18,70.28 L98.68,70.47 L99.17,66.72 L99.67,68.22 L100.16,65.37 L100.66,58.96 L101.16,57.82 L101.65,50.39 L102.15,42.81 L102.64,47.83 L103.14,45.05 L103.63,38.93 L104.13,38.32 L104.62,37.28 L105.12,35.24 L105.62,29.13 L106.11,27.92 L106.61,26.74 L107.1,22.68 L107.6,19.03 L108.09,21.14 L108.59,16.82 L109.09,19.36 L109.58,11.96 L110.08,15.91 L110.57,15.34 L111.07,17.49 L111.56,16.76 L112.06,20.82 L112.55,15.75 L113.05,9.44 L113.55,16 L114.04,8.59 L114.54,18.3 L115.03,13.13 L115.53,21.88 L116.02,17.92 L116.52,20.58 L117.01,28.35 L117.51,20.82 L118.01,21.41 L118.5,28 L119,30.29 L119.49,30.16 L119.99,35.58 L120.48,31.72 L120.98,38.76 L121.48,40.18 L121.97,45.14 L122.47,48.89 L122.96,54.46 L123.46,52.07 L123.95,58.35 L124.45,60.1 L124.94,62.81 L125.44,66.92 L125.94,69.57 L126.43,73.96 L126.93,74.79 L127.42,79.07 L127.92,81.81 L128.41,85.19 L128.91,85.85 L129.4,83.72 L129.9,89.7 L130.4,91.85 L130.89,91.37 L131.39,90.39 L131.88,96.46 L132.38,96.43 L132.87,98.74 L133.37,101.41 L133.87,101.38 L134.36,103.15 L134.86,104.02 L135.35,105.77 L135.85,106.18 L136.34,107.58 L136.84,108.41 L137.33,109.95 L137.83,110.41 L138.33,109.4 L138.82,110.72 L139.32,110.77 L139.81,111.16 L140.31,111.44 L140.8,111.42 L141.3,111.32 L141.79,111.38 L142.29,111.33 L142.79,111.36 L143.28,111.31 L143.78,111.37 L144.27,111.33 L144.77,111.42 L145.26,111.44 L145.76,111.23 L146.26,111.18 L146.75,111.33 L147.25,111.28 L147.74,111.23 L148.24,111.19 L148.73,111.22 L149.23,111.32 L149.72,111.14 L150.22,111.4 L150.72,111.27 L151.21,111.33 L151.71,111.31 L152.2,111.23 L152.7,111.29 L153.19,111.46 L153.69,111.45 L154.18,111.21 L154.68,111.39 L155.18,111.29 L155.67,111.2 L156.17,111.39 L156.66,111.44 L157.16,111.21 L157.65,111.21 L158.15,111.31 L158.65,111.32 L159.14,111.38 L159.64,111.42 L160.13,111.37 L160.63,111.4 L161.12,111.46 L161.62,111.3 L162.11,111.37 L162.61,111.35 L163.11,111.47 L163.6,111.41 L164.1,111.47 L164.59,111.46 L165.09,111.33 L165.58,111.43 L166.08,111.36 L166.57,111.36 L167.07,111.19 L167.57,111.42 L168.06,111.15 L168.56,111.24 L169.05,111.19 L169.55,111.33 L170.04,111.31 L170.54,111.23 L171.04,111.32 L171.53,111.3 L172.03,111.34 L172.52,111.18 L173.02,111.32 L173.51,111.48 L174.01,111.38 L174.5,111.46 L175,111.6 L175.5,111.37 L175.99,111.21 L176.49,111.38 L176.98,111.48 L177.48,111.44 L177.97,111.28 L178.47,111.35 L178.96,111.27 L179.46,111.31 L179.96,111.34 L180.45,111.29 L180.95,111.28 L181.44,111.37 L181.94,111.43 L182.43,111.3 L182.93,111.43 L183.43,111.28 L183.92,111.44 L184.42,111.41 L184.91,111.39 L185.41,111.45 L185.9,111.2 L186.4,111.23 L186.89,111.34 L187.39,111.21 L187.89,111.28 L188.38,111.55 L188.88,111.31 L189.37,111.36 L189.87,111.38 L190.36,111.46 L190.86,111.4 L191.35,111.41 L191.85,111.29 L192.35,111.32 L192.84,111.34 L193.34,111.19 L193.83,111.31 L194.33,111.27 L194.82,111.36 L195.32,111.11 L195.82,111.16 L196.31,111.21 L196.81,111.19 L197.3,111.25 L197.8,111.27 L198.29,111.36 L198.79,111.33 L199.28,111.34 L199.78,111.25 L200.28,111.27 L200.77,111.28 L201.27,111.33 L201.76,111.36 L202.26,111.16 L202.75,111.31 L203.25,111.35 L203.74,111.43 L204.24,111.46 L204.74,111.41 L205.23,111.29 L205.73,111.4 L206.22,111.39 L206.72,111.44 L207.21,111.45 L207.71,111.56 L208.21,111.45 L208.7,111.45 L209.2,111.28 L209.69,111.35 L210.19,111.24 L210.68,111.17 L211.18,111.34 L211.67,111.33 L212.17,111.3 L212.67,111.32 L213.16,111.41 L213.66,111.3 L214.15,111.23 L214.65,111.38 L215.14,111.38 L215.64,111.43 L216.13,111.34 L216.63,111.44 L217.13,111.44 L217.62,111.25 L218.12,111.38 L218.61,111.19 L219.11,111.11 L219.6,111.2 L220.1,111.18 L220.59,111.13 L221.09,111.31 L221.59,111.39 L222.08,111.47 L222.58,111.35 L223.07,111.27 L223.57,111.33 L224.06,111.55 L224.56,111.53 L225.06,111.52 L225.55,111.42 L226.05,111.46 L226.54,111.36 L227.04,111.4 L227.53,111.48 L228.03,111.47 L228.52,111.5 L229.02,111.56 L229.52,111.43 L230.01,111.29 L230.51,111.35 L231,111.38 L231.5,111.49 L231.99,111.37 L232.49,111.53 L232.98,111.49 L233.48,111.22 L233.98,111.23 L234.47,111.29 L234.97,111.44 L235.46,111.33 L235.96,111.41 L236.45,111.29 L236.95,111.16 L237.45,111.25 L237.94,111.41 L238.44,111.44 L238.93,111.35 L239.43,111.36 L239.92,111.51 L240.42,111.36 L240.91,111.5 L241.41,111.33 L241.91,111.26 L242.4,111.2 L242.9,111.36 L243.39,111.26 L243.89,111.33 L244.38,111.39 L244.88,111.44 L245.37,111.51 L245.87,111.47 L246.37,111.25 L246.86,111.37 L247.36,111.34 L247.85,111.3 L248.35,111.57 L248.84,111.58 L249.34,111.47 L249.84,111.44 L250.33,111.44 L250.83,111.26 L251.32,111.23 L251.82,111.4 L252.31,111.34 L252.81,111.18 L253.3,111.28 L253.8,111.53 L254.3,111.23 L254.79,111.36 L255.29,111.29 L255.78,111.48 L256.28,111.48 L256.77,111.55 L257.27,111.21 L257.76,111.47 L258.26,111.25 L258.76,111.41 L259.25,111.31 L259.75,111.51 L260.24,111.41 L260.74,111.32 L261.23,111.5 L261.73,111.33 L262.23,111.36 L262.72,111.49 L263.22,111.4 L263.71,111.39 L264.21,111.38 L264.7,111.34 L265.2,111.29 L265.69,111.3 L266.19,111.37 L266.69,111.3 L267.18,111.23 L267.68,111.21 L268.17,111.38 L268.67,111.27 L269.16,111.4 L269.66,111.47 L270.15,111.3 L270.65,111.42 L271.15,111.25 L271.64,111.46 L272.14,111.36 L272.63,111.45 L273.13,111.49 L273.62,111.34 L274.12,111.35 L274.62,111.28 L275.11,111.3 L275.61,111.37 L276.1,111.33 L276.6,111.33 L277.09,111.25 L277.59,111.44 L278.08,111.34 L278.58,111.47 L279.08,111.29 L279.57,111.46 L280.07,111.51 L280.56,111.4 L281.06,111.33 L281.55,111.49 L282.05,111.46 L282.54,111.48 L283.04,111.53 L283.54,111.45 L284.03,111.58 L284.53,111.52 L285.02,111.33 L285.52,111.46 L286.01,111.33 L286.51,111.39 L287.01,111.43 L287.5,111.5 L288,111.13 L288.49,111.22 L288.99,111.19 L289.48,111.22 L289.98,111.19 L290.47,111.21 L290.97,111.14 L291.47,111.45 L291.96,111.5 L292.46,111.49 L292.95,111.53 L293.45,111.34 L293.94,111.24 L294.44,111.41 L294.93,111.43 L295.43,111.34 L295.93,111.19 L296.42,111.57 L296.92,111.29 L297.41,111.44 L297.91,111.31 L298.4,111.52 L298.9,111.47 L299.4,111.55 L299.89,111.51 L300.39,111.28 L300.88,111.3 L301.38,111.41 L301.87,111.46 L302.37,111.52 L302.86,111.44 L303.36,111.44 L303.86,111.42 L304.35,111.46 L304.85,111.55 L305.34,111.41 L305.84,111.38 L306.33,111.34 L306.83,111.23 L307.32,111.39 L307.82,111.45 L308.32,111.43 L308.81,111.46 L309.31,111.49 L309.8,111.45 L310.3,111.52 L310.79,111.32 L311.29,111.35 L311.79,111.31 L312.28,111.3 L312.78,111.32 L313.27,111.33 L313.77,111.26 L314.26,111.27 L314.76,111.24 L315.25,111.27 L315.75,111.45 L316.25,111.36 L316.74,111.49 L317.24,111.43 L317.73,111.48 L318.23,111.61 L318.72,111.44 L319.22,111.4 L319.71,111.38 L320.21,111.36 L320.71,111.34 L321.2,111.41 L321.7,111.36 L322.19,111.42 L322.69,111.35 L323.18,111.4 L323.68,111.26 L324.18,111.32 L324.67,111.36 L325.17,111.44 L325.66,111.44 L326.16,111.59 L326.65,111.37 L327.15,111.4 L327.64,111.34 L328.14,111.27 L328.64,111.4 L329.13,111.39 L329.63,111.28 L330.12,111.31 L330.62,111.35 L331.11,111.44 L331.61,111.22 L332.1,111.13 L332.6,111.11 L333.1,111.18 L333.59,111.4 L334.09,111.23 L334.58,111.34 L335.08,111.59 L335.57,111.34 L336.07,111.46 L336.57,111.47 L337.06,111.38 L337.56,111.2 L338.05,111.35 L338.55,111.26 L339.04,111.09 L339.54,111.13 L340.03,111.36 L340.53,111.39 L341.03,111.51 L341.52,111.52 L342.02,111.44 L342.51,111.34 L343.01,111.36 L343.5,111.3 L344,111.36 L344.49,111.32 L344.99,111.33 L345.49,111.32 L345.98,111.23 L346.48,111.36 L346.97,111.39 L347.47,111.31 L347.96,111.46 L348.46,111.52 L348.96,111.29 L349.45,111.38 L349.95,111.33 L350.44,111.47 L350.94,111.29 L351.43,111.35 L351.93,111.32 L352.42,111.44 L352.92,111.29 L353.42,111.24 L353.91,111.24 L354.41,111.32 L354.9,111.27 L355.4,111.22 L355.89,111.54 L356.39,111.33 L356.88,111.3 L357.38,111.26 L357.88,111.15 L358.37,111.15 L358.87,111.19 L359.36,111.2 L359.86,111.24 L360.35,111.39 L360.85,111.42 L361.35,111.34 L361.84,111.28 L362.34,111.38 L362.83,111.32 L363.33,111.22 L363.82,111.14 L364.32,111.23 L364.81,111.15 L365.31,111.36 L365.81,111.34 L366.3,111.38 L366.8,111.3 L367.29,111.23 L367.79,111.49 L368.28,111.44 L368.78,111.34 L369.27,111.42 L369.77,111.51 L370.27,111.26 L370.76,111.29 L371.26,111.31 L371.75,111.36 L372.25,111.28 L372.74,111.36 L373.24,111.27 L373.74,111.46 L374.23,111.51 L374.73,111.4 L375.22,111.45 L375.72,111.33 L376.21,111.29 L376.71,111.4 L377.2,111.29 L377.7,111.31" fill="none" stroke="#0000ff" stroke-width="1.15" stroke-linejoin="round"/>
<path d="M51.1,111.34 L51.6,110.89 L52.09,110.58 L52.59,110.99 L53.08,111.15 L53.58,111.36 L54.07,111.56 L54.57,111.01 L55.06,111.56 L55.56,111.32 L56.06,111.11 L56.55,111 L57.05,111.15 L57.54,111.24 L58.04,111.47 L58.53,111.58 L59.03,111.38 L59.53,111.51 L60.02,111.49 L60.52,111.45 L61.01,111.32 L61.51,111.57 L62,111.37 L62.5,111.4 L62.99,110.99 L63.49,111.08 L63.99,110.74 L64.48,111.49 L64.98,111.28 L65.47,110.95 L65.97,110.97 L66.46,110.96 L66.96,110.63 L67.45,111.16 L67.95,111.32 L68.45,111.55 L68.94,111.1 L69.44,111 L69.93,111.43 L70.43,111.47 L70.92,111.03 L71.42,111.13 L71.92,111.63 L72.41,111.24 L72.91,111.15 L73.4,111.68 L73.9,111.19 L74.39,110.87 L74.89,111.18 L75.38,111.51 L75.88,111.16 L76.38,111.15 L76.87,110.96 L77.37,111.72 L77.86,110.78 L78.36,111.36 L78.85,110.82 L79.35,110.73 L79.84,110.71 L80.34,110.82 L80.84,111.1 L81.33,110.79 L81.83,111 L82.32,111.47 L82.82,110.42 L83.31,111.05 L83.81,110.85 L84.31,111.5 L84.8,110.85 L85.3,110.85 L85.79,110.76 L86.29,111.08 L86.78,111.41 L87.28,111.38 L87.77,111.75 L88.27,111.76 L88.77,111.37 L89.26,111.54 L89.76,111.33 L90.25,111.39 L90.75,110.95 L91.24,110.96 L91.74,111.33 L92.23,110.92 L92.73,111.22 L93.23,111.05 L93.72,111.01 L94.22,111.28 L94.71,111.08 L95.21,111.39 L95.7,111.09 L96.2,110.63 L96.7,111.17 L97.19,110.95 L97.69,111.16 L98.18,111.15 L98.68,111.33 L99.17,110.65 L99.67,110.66 L100.16,111.15 L100.66,111.44 L101.16,111.08 L101.65,111.3 L102.15,111.04 L102.64,111 L103.14,110.95 L103.63,110.76 L104.13,111.14 L104.62,111.01 L105.12,111.25 L105.62,111.04 L106.11,111.35 L106.61,111.08 L107.1,111.38 L107.6,111.12 L108.09,111.12 L108.59,111.43 L109.09,111.24 L109.58,111.21 L110.08,111 L110.57,110.72 L111.07,110.95 L111.56,111.21 L112.06,110.81 L112.55,111.3 L113.05,110.71 L113.55,111.16 L114.04,111.76 L114.54,110.61 L115.03,110.89 L115.53,111.41 L116.02,111.1 L116.52,111.03 L117.01,111.21 L117.51,111.54 L118.01,111.45 L118.5,111.22 L119,111.15 L119.49,110.79 L119.99,111.02 L120.48,110.47 L120.98,111.14 L121.48,111.07 L121.97,111.39 L122.47,111.33 L122.96,110.68 L123.46,111.23 L123.95,110.95 L124.45,111.08 L124.94,111.17 L125.44,111.2 L125.94,111.22 L126.43,111.26 L126.93,111.09 L127.42,111.08 L127.92,111.36 L128.41,111.34 L128.91,111.03 L129.4,111.06 L129.9,110.88 L130.4,110.35 L130.89,110.72 L131.39,110.89 L131.88,110.91 L132.38,110.96 L132.87,111.13 L133.37,110.93 L133.87,110.66 L134.36,110.61 L134.86,110.29 L135.35,110.64 L135.85,110.62 L136.34,111.06 L136.84,108.97 L137.33,109.47 L137.83,107.56 L138.33,107.68 L138.82,106.64 L139.32,107.8 L139.81,106.4 L140.31,104.94 L140.8,108 L141.3,105.27 L141.79,104.01 L142.29,104.8 L142.79,103.5 L143.28,102.37 L143.78,103.66 L144.27,100.93 L144.77,100.8 L145.26,99.72 L145.76,99.04 L146.26,98.14 L146.75,98.33 L147.25,96.86 L147.74,98.69 L148.24,91.88 L148.73,91.52 L149.23,90.07 L149.72,90.18 L150.22,88.44 L150.72,86.29 L151.21,85.27 L151.71,87.12 L152.2,82.89 L152.7,77.77 L153.19,85.83 L153.69,79.48 L154.18,79.53 L154.68,76.76 L155.18,72.27 L155.67,74.48 L156.17,69.15 L156.66,66.05 L157.16,70.2 L157.65,68.81 L158.15,67.53 L158.65,66.3 L159.14,61.16 L159.64,65.1 L160.13,59.44 L160.63,63.25 L161.12,59.1 L161.62,57.84 L162.11,63.1 L162.61,56.05 L163.11,56.91 L163.6,56.5 L164.1,50.61 L164.59,54.98 L165.09,54.02 L165.58,47.29 L166.08,49.88 L166.57,47.55 L167.07,53.09 L167.57,57.45 L168.06,55.66 L168.56,52.26 L169.05,53.37 L169.55,57.03 L170.04,57.13 L170.54,58.85 L171.04,60.61 L171.53,55.83 L172.03,58.36 L172.52,62.81 L173.02,63.14 L173.51,61.49 L174.01,61.38 L174.5,64.2 L175,65.49 L175.5,65 L175.99,69.77 L176.49,70.38 L176.98,69.37 L177.48,72.69 L177.97,70.91 L178.47,70.35 L178.96,73.25 L179.46,74.91 L179.96,72.31 L180.45,78.1 L180.95,80.76 L181.44,80.83 L181.94,83.69 L182.43,88.04 L182.93,87.31 L183.43,90.15 L183.92,94.88 L184.42,93.29 L184.91,93.94 L185.41,94.24 L185.9,96.3 L186.4,94.29 L186.89,94.76 L187.39,94.79 L187.89,98.16 L188.38,97.5 L188.88,101.59 L189.37,100.9 L189.87,99.95 L190.36,103.51 L190.86,103.42 L191.35,102.1 L191.85,103.95 L192.35,104.34 L192.84,104.14 L193.34,103.99 L193.83,107.47 L194.33,107.15 L194.82,107.81 L195.32,107.96 L195.82,107.98 L196.31,107.93 L196.81,107.66 L197.3,108.81 L197.8,108.64 L198.29,108.81 L198.79,110.14 L199.28,109.55 L199.78,108.62 L200.28,109.47 L200.77,110.41 L201.27,109.87 L201.76,110.07 L202.26,109.69 L202.75,109.27 L203.25,110.1 L203.74,109.83 L204.24,109.35 L204.74,110.25 L205.23,110.11 L205.73,110.76 L206.22,110.82 L206.72,110.6 L207.21,109.11 L207.71,110.45 L208.21,111.01 L208.7,111.05 L209.2,111.21 L209.69,110.77 L210.19,110.73 L210.68,109.16 L211.18,110.16 L211.67,109.28 L212.17,109.93 L212.67,110.06 L213.16,111.21 L213.66,110.66 L214.15,110.42 L214.65,110.49 L215.14,111.18 L215.64,109.67 L216.13,110.13 L216.63,110.38 L217.13,110.23 L217.62,110.24 L218.12,109.87 L218.61,110.79 L219.11,110.74 L219.6,109.98 L220.1,110.23 L220.59,110.57 L221.09,110.33 L221.59,110.17 L222.08,110 L222.58,109.45 L223.07,110.08 L223.57,109.07 L224.06,109.48 L224.56,110.19 L225.06,109.79 L225.55,111.38 L226.05,111.5 L226.54,111.33 L227.04,110.95 L227.53,110.88 L228.03,110.99 L228.52,110.83 L229.02,111.76 L229.52,110.77 L230.01,111.28 L230.51,110.32 L231,110.04 L231.5,110.24 L231.99,110.61 L232.49,111.13 L232.98,111.2 L233.48,111.1 L233.98,110.88 L234.47,111.35 L234.97,110.68 L235.46,110.63 L235.96,109.92 L236.45,110.93 L236.95,109.77 L237.45,110.66 L237.94,111.02 L238.44,110.42 L238.93,110.15 L239.43,110.19 L239.92,110 L240.42,110.18 L240.91,109.99 L241.41,110.16 L241.91,110.85 L242.4,109.98 L242.9,110.59 L243.39,110.48 L243.89,110.88 L244.38,110.64 L244.88,110.29 L245.37,111.16 L245.87,110.37 L246.37,110.57 L246.86,110.52 L247.36,111.57 L247.85,110.86 L248.35,110.55 L248.84,111.23 L249.34,110.84 L249.84,111.72 L250.33,110.53 L250.83,111.31 L251.32,110.64 L251.82,111.76 L252.31,111.13 L252.81,111.18 L253.3,110.68 L253.8,111.24 L254.3,111.07 L254.79,109.77 L255.29,111.16 L255.78,111.09 L256.28,110.9 L256.77,111.13 L257.27,110.38 L257.76,110.22 L258.26,111.14 L258.76,111.56 L259.25,110.5 L259.75,111.03 L260.24,110.98 L260.74,110.75 L261.23,111.21 L261.73,111.02 L262.23,111.19 L262.72,111.41 L263.22,111.08 L263.71,111.45 L264.21,110.77 L264.7,111.27 L265.2,111.29 L265.69,111.02 L266.19,110.76 L266.69,111.16 L267.18,111.49 L267.68,111.21 L268.17,111 L268.67,111.34 L269.16,111.23 L269.66,110.81 L270.15,110.88 L270.65,111.03 L271.15,110.87 L271.64,110.97 L272.14,110.73 L272.63,110.79 L273.13,110.64 L273.62,110.79 L274.12,111.35 L274.62,111.01 L275.11,110.95 L275.61,111.2 L276.1,111.14 L276.6,111.63 L277.09,111.72 L277.59,111.28 L278.08,111.66 L278.58,111.76 L279.08,110.94 L279.57,111.29 L280.07,111.1 L280.56,111.07 L281.06,111.19 L281.55,111.14 L282.05,110.96 L282.54,110.89 L283.04,111.5 L283.54,110.85 L284.03,111.35 L284.53,111.42 L285.02,111.14 L285.52,111.37 L286.01,111.72 L286.51,111.05 L287.01,111.51 L287.5,111.24 L288,111.21 L288.49,111 L288.99,111.36 L289.48,111.14 L289.98,111.49 L290.47,111.18 L290.97,111.37 L291.47,111.24 L291.96,110.73 L292.46,111.06 L292.95,111.01 L293.45,110.67 L293.94,110.98 L294.44,111.19 L294.93,110.86 L295.43,111.3 L295.93,110.76 L296.42,110.75 L296.92,111.08 L297.41,111.07 L297.91,110.85 L298.4,110.91 L298.9,111.1 L299.4,110.85 L299.89,111.55 L300.39,111.19 L300.88,111.19 L301.38,111.33 L301.87,111.22 L302.37,111.45 L302.86,111.03 L303.36,111.16 L303.86,111.28 L304.35,111.38 L304.85,111.31 L305.34,111 L305.84,111.38 L306.33,111.22 L306.83,111.05 L307.32,111.05 L307.82,111.1 L308.32,111.56 L308.81,111.53 L309.31,110.99 L309.8,111.24 L310.3,110.97 L310.79,111.09 L311.29,110.71 L311.79,110.87 L312.28,110.78 L312.78,110.83 L313.27,110.77 L313.77,111.01 L314.26,110.99 L314.76,110.86 L315.25,111.36 L315.75,110.8 L316.25,111.16 L316.74,111.03 L317.24,111.19 L317.73,111.21 L318.23,110.97 L318.72,111.46 L319.22,111.65 L319.71,111.56 L320.21,111.29 L320.71,110.72 L321.2,111.06 L321.7,110.83 L322.19,111.31 L322.69,111.09 L323.18,111.06 L323.68,110.79 L324.18,111.31 L324.67,110.97 L325.17,111.13 L325.66,111.33 L326.16,111.25 L326.65,111.29 L327.15,111.72 L327.64,111.08 L328.14,111.04 L328.64,111.14 L329.13,111.41 L329.63,110.75 L330.12,110.96 L330.62,110.89 L331.11,110.85 L331.61,111.26 L332.1,111.09 L332.6,111.3 L333.1,111.14 L333.59,111.05 L334.09,111 L334.58,110.63 L335.08,110.82 L335.57,110.96 L336.07,111.03 L336.57,110.86 L337.06,111.06 L337.56,110.96 L338.05,110.97 L338.55,111.05 L339.04,111.01 L339.54,111.3 L340.03,110.98 L340.53,110.97 L341.03,111.18 L341.52,111.2 L342.02,110.65 L342.51,110.72 L343.01,110.87 L343.5,110.78 L344,110.89 L344.49,110.75 L344.99,111.09 L345.49,110.63 L345.98,111.39 L346.48,110.99 L346.97,111.33 L347.47,110.88 L347.96,111.32 L348.46,111.2 L348.96,111.13 L349.45,111.13 L349.95,111.43 L350.44,111.41 L350.94,111.58 L351.43,111.12 L351.93,111.05 L352.42,111.3 L352.92,111.29 L353.42,111.24 L353.91,111.3 L354.41,111.12 L354.9,110.92 L355.4,111.53 L355.89,111.09 L356.39,111.18 L356.88,111 L357.38,111.18 L357.88,111.08 L358.37,111.28 L358.87,111.04 L359.36,111.11 L359.86,111.2 L360.35,111.18 L360.85,111.35 L361.35,111.53 L361.84,111.12 L362.34,111.15 L362.83,111.26 L363.33,111.04 L363.82,110.97 L364.32,111.39 L364.81,111.28 L365.31,110.79 L365.81,110.92 L366.3,111.37 L366.8,111.45 L367.29,111.27 L367.79,111.12 L368.28,111.29 L368.78,110.92 L369.27,111.28 L369.77,111.52 L370.27,110.94 L370.76,111.19 L371.26,111.07 L371.75,110.83 L372.25,110.56 L372.74,110.96 L373.24,110.82 L373.74,111.12 L374.23,110.73 L374.73,110.98 L375.22,111.25 L375.72,111.08 L376.21,110.84 L376.71,110.79 L377.2,110.65 L377.7,110.74" fill="none" stroke="#008000" stroke-width="1.15" stroke-linejoin="round"/>
<path d="M51.1,110.97 L51.6,110.82 L52.09,110.99 L52.59,110.86 L53.08,111.2 L53.58,110.88 L54.07,110.59 L54.57,111.13 L55.06,111.17 L55.56,111.05 L56.06,111.04 L56.55,111.14 L57.05,111.54 L57.54,111.1 L58.04,111.31 L58.53,111.36 L59.03,110.97 L59.53,111.05 L60.02,110.87 L60.52,110.42 L61.01,110.74 L61.51,110.88 L62,111.05 L62.5,111.06 L62.99,111.2 L63.49,111.06 L63.99,111.19 L64.48,111.25 L64.98,111.08 L65.47,111.07 L65.97,111.25 L66.46,111.18 L66.96,110.81 L67.45,110.9 L67.95,110.94 L68.45,110.86 L68.94,111.1 L69.44,110.93 L69.93,111.25 L70.43,110.44 L70.92,110.64 L71.42,110.88 L71.92,111.15 L72.41,110.94 L72.91,111.4 L73.4,111.25 L73.9,110.99 L74.39,111.09 L74.89,111.09 L75.38,110.72 L75.88,111.07 L76.38,110.82 L76.87,110.92 L77.37,111 L77.86,110.87 L78.36,111.1 L78.85,110.62 L79.35,111.05 L79.84,110.72 L80.34,111.26 L80.84,111 L81.33,111.28 L81.83,111.31 L82.32,110.91 L82.82,110.86 L83.31,111.11 L83.81,110.75 L84.31,111.08 L84.8,110.99 L85.3,110.93 L85.79,110.95 L86.29,111.27 L86.78,110.81 L87.28,110.97 L87.77,111.25 L88.27,111.29 L88.77,111.55 L89.26,111.47 L89.76,111.24 L90.25,111.21 L90.75,111.51 L91.24,111.27 L91.74,110.87 L92.23,111.22 L92.73,111.38 L93.23,110.91 L93.72,111.09 L94.22,111.08 L94.71,111.11 L95.21,111.26 L95.7,111.25 L96.2,111.1 L96.7,110.99 L97.19,110.84 L97.69,110.8 L98.18,110.87 L98.68,110.94 L99.17,111.19 L99.67,111.48 L100.16,111.25 L100.66,111.3 L101.16,111.23 L101.65,111.13 L102.15,111.38 L102.64,111.28 L103.14,111.05 L103.63,111.05 L104.13,111.35 L104.62,110.97 L105.12,111.02 L105.62,111.26 L106.11,111.1 L106.61,110.67 L107.1,111.07 L107.6,110.85 L108.09,110.89 L108.59,110.69 L109.09,111.18 L109.58,110.69 L110.08,111.01 L110.57,110.97 L111.07,111.08 L111.56,110.83 L112.06,110.91 L112.55,111.08 L113.05,110.85 L113.55,111.08 L114.04,111.24 L114.54,111.08 L115.03,110.97 L115.53,110.85 L116.02,111.35 L116.52,110.97 L117.01,111.02 L117.51,110.81 L118.01,111.33 L118.5,111.11 L119,111.19 L119.49,111.41 L119.99,111.15 L120.48,110.81 L120.98,111.06 L121.48,111.05 L121.97,110.73 L122.47,110.73 L122.96,110.72 L123.46,110.92 L123.95,110.74 L124.45,110.57 L124.94,110.97 L125.44,110.96 L125.94,110.75 L126.43,110.71 L126.93,111.29 L127.42,111.55 L127.92,111.47 L128.41,111.38 L128.91,111.16 L129.4,111 L129.9,110.95 L130.4,111.12 L130.89,110.94 L131.39,111.22 L131.88,110.89 L132.38,111.16 L132.87,110.12 L133.37,110.77 L133.87,111.55 L134.36,111.34 L134.86,110.78 L135.35,110.68 L135.85,109.73 L136.34,109.33 L136.84,108.27 L137.33,109.14 L137.83,109.51 L138.33,110 L138.82,110.19 L139.32,109.93 L139.81,110.2 L140.31,110 L140.8,110.84 L141.3,110.08 L141.79,110.55 L142.29,110.77 L142.79,111.52 L143.28,111.42 L143.78,111.12 L144.27,111.11 L144.77,111.31 L145.26,111.01 L145.76,111.27 L146.26,111.26 L146.75,111.24 L147.25,110.91 L147.74,111.15 L148.24,111.23 L148.73,111.11 L149.23,110.89 L149.72,110.95 L150.22,111.07 L150.72,110.66 L151.21,111.05 L151.71,111.07 L152.2,110.9 L152.7,110.95 L153.19,111 L153.69,110.82 L154.18,111.23 L154.68,111.15 L155.18,111.55 L155.67,110.95 L156.17,111.54 L156.66,110.93 L157.16,111.2 L157.65,111.2 L158.15,111.12 L158.65,111.07 L159.14,111.1 L159.64,110.83 L160.13,110.97 L160.63,110.87 L161.12,111.2 L161.62,111.04 L162.11,111.17 L162.61,111.31 L163.11,111.27 L163.6,111.23 L164.1,111.1 L164.59,111 L165.09,111.18 L165.58,111.2 L166.08,110.96 L166.57,111.4 L167.07,111.24 L167.57,110.9 L168.06,111.55 L168.56,111.35 L169.05,110.99 L169.55,111.41 L170.04,110.5 L170.54,111.36 L171.04,110.64 L171.53,110.77 L172.03,110.94 L172.52,111.14 L173.02,111.01 L173.51,111.17 L174.01,110.74 L174.5,111.05 L175,111 L175.5,110.78 L175.99,111.17 L176.49,111.05 L176.98,110.92 L177.48,111.17 L177.97,110.77 L178.47,110.98 L178.96,111.4 L179.46,111.1 L179.96,111.37 L180.45,111.31 L180.95,111.02 L181.44,111.13 L181.94,110.95 L182.43,111.13 L182.93,110.73 L183.43,111.07 L183.92,110.85 L184.42,111.03 L184.91,111.05 L185.41,111.05 L185.9,110.72 L186.4,110.73 L186.89,110.55 L187.39,110.65 L187.89,111.01 L188.38,111.05 L188.88,110.9 L189.37,111.03 L189.87,110.75 L190.36,110.89 L190.86,111.28 L191.35,111.35 L191.85,110.92 L192.35,111.19 L192.84,111.27 L193.34,111.09 L193.83,111.28 L194.33,111.22 L194.82,111.27 L195.32,111.55 L195.82,111.03 L196.31,111.36 L196.81,111.4 L197.3,111.39 L197.8,111.18 L198.29,111.3 L198.79,111.29 L199.28,111.48 L199.78,111.16 L200.28,111.36 L200.77,110.9 L201.27,110.89 L201.76,110.85 L202.26,110.57 L202.75,110.85 L203.25,110.89 L203.74,111.04 L204.24,111.19 L204.74,110.88 L205.23,110.86 L205.73,111.31 L206.22,110.88 L206.72,110.93 L207.21,110.91 L207.71,110.89 L208.21,111.29 L208.7,111.22 L209.2,110.64 L209.69,110.83 L210.19,111.13 L210.68,110.73 L211.18,111.08 L211.67,111.36 L212.17,111.52 L212.67,111.42 L213.16,111.13 L213.66,111.11 L214.15,111.23 L214.65,111.08 L215.14,110.94 L215.64,111.45 L216.13,111.1 L216.63,111.07 L217.13,111.24 L217.62,111.07 L218.12,110.96 L218.61,110.98 L219.11,111.22 L219.6,110.89 L220.1,110.65 L220.59,111.12 L221.09,111.19 L221.59,110.81 L222.08,110.88 L222.58,110.91 L223.07,111.26 L223.57,110.81 L224.06,111.09 L224.56,111.03 L225.06,110.79 L225.55,110.75 L226.05,110.69 L226.54,110.85 L227.04,111.12 L227.53,111.01 L228.03,111.3 L228.52,111.11 L229.02,111.51 L229.52,111.33 L230.01,110.85 L230.51,111.11 L231,110.89 L231.5,110.93 L231.99,111.19 L232.49,111.34 L232.98,110.89 L233.48,111.55 L233.98,110.98 L234.47,110.69 L234.97,110.93 L235.46,111 L235.96,110.88 L236.45,110.66 L236.95,111.24 L237.45,111.06 L237.94,111.08 L238.44,111.02 L238.93,111.11 L239.43,110.91 L239.92,111.17 L240.42,111.07 L240.91,111.14 L241.41,111.02 L241.91,110.89 L242.4,110.79 L242.9,110.99 L243.39,110.57 L243.89,110.97 L244.38,111.26 L244.88,110.76 L245.37,111.06 L245.87,110.64 L246.37,110.67 L246.86,110.65 L247.36,110.7 L247.85,110.91 L248.35,110.95 L248.84,110.67 L249.34,111.39 L249.84,111.1 L250.33,111.01 L250.83,111.36 L251.32,111.28 L251.82,110.77 L252.31,111.11 L252.81,110.79 L253.3,111.01 L253.8,111.09 L254.3,111.01 L254.79,111.02 L255.29,110.86 L255.78,111.11 L256.28,111.21 L256.77,111.13 L257.27,110.99 L257.76,111.02 L258.26,111.26 L258.76,111.27 L259.25,110.6 L259.75,110.77 L260.24,110.19 L260.74,110.39 L261.23,109.46 L261.73,108.58 L262.23,108.15 L262.72,109.27 L263.22,107.07 L263.71,108.43 L264.21,105.76 L264.7,106.12 L265.2,105.63 L265.69,106.37 L266.19,108.54 L266.69,105.68 L267.18,105.43 L267.68,102.85 L268.17,105.06 L268.67,100.42 L269.16,101.38 L269.66,98.67 L270.15,101.36 L270.65,97.83 L271.15,97.03 L271.64,95.67 L272.14,96.05 L272.63,97.58 L273.13,92.82 L273.62,91.7 L274.12,90.17 L274.62,88.32 L275.11,85.6 L275.61,86.16 L276.1,88.65 L276.6,87.98 L277.09,81.7 L277.59,81.59 L278.08,81.56 L278.58,79.62 L279.08,77.34 L279.57,75.46 L280.07,75.64 L280.56,75.15 L281.06,68.34 L281.55,70.01 L282.05,71.2 L282.54,72.22 L283.04,68.86 L283.54,64.46 L284.03,63.29 L284.53,63.58 L285.02,59.7 L285.52,59.09 L286.01,59.8 L286.51,53.73 L287.01,56.26 L287.5,50.18 L288,57.48 L288.49,53.84 L288.99,50.98 L289.48,53.8 L289.98,56.27 L290.47,55.22 L290.97,53.54 L291.47,52.56 L291.96,51.45 L292.46,49.72 L292.95,51.3 L293.45,52.42 L293.94,53.98 L294.44,55.99 L294.93,53.7 L295.43,51.51 L295.93,55.38 L296.42,56.33 L296.92,58.51 L297.41,62.84 L297.91,63.66 L298.4,61.44 L298.9,62.49 L299.4,62.22 L299.89,67.03 L300.39,65.91 L300.88,64.67 L301.38,66.7 L301.87,70.36 L302.37,70.68 L302.86,72.38 L303.36,76.75 L303.86,73.53 L304.35,74 L304.85,78.06 L305.34,75.04 L305.84,80.44 L306.33,83.93 L306.83,85.49 L307.32,87.42 L307.82,85.54 L308.32,86.9 L308.81,84.47 L309.31,87.38 L309.8,89.65 L310.3,93.02 L310.79,96.06 L311.29,96 L311.79,97.63 L312.28,96.51 L312.78,99.36 L313.27,98.9 L313.77,101.19 L314.26,102.74 L314.76,103.37 L315.25,103.55 L315.75,103.39 L316.25,102.91 L316.74,104.28 L317.24,104.32 L317.73,102.69 L318.23,105.49 L318.72,106.45 L319.22,107.45 L319.71,108.63 L320.21,107.69 L320.71,108.91 L321.2,108.96 L321.7,108.54 L322.19,108.27 L322.69,110.04 L323.18,109.1 L323.68,109.55 L324.18,109.68 L324.67,109.94 L325.17,110.5 L325.66,110.37 L326.16,110.9 L326.65,111.05 L327.15,110.77 L327.64,110.82 L328.14,110.98 L328.64,110.96 L329.13,110.56 L329.63,110.88 L330.12,110.9 L330.62,111 L331.11,110.97 L331.61,111.25 L332.1,111.05 L332.6,110.99 L333.1,111.45 L333.59,110.95 L334.09,110.85 L334.58,110.95 L335.08,111.21 L335.57,110.7 L336.07,111.14 L336.57,111.27 L337.06,111.21 L337.56,111.13 L338.05,110.83 L338.55,110.83 L339.04,110.89 L339.54,111.23 L340.03,111.11 L340.53,111.38 L341.03,111.18 L341.52,111.5 L342.02,111.05 L342.51,110.97 L343.01,111.06 L343.5,110.94 L344,111.23 L344.49,111.47 L344.99,111.25 L345.49,110.97 L345.98,111.1 L346.48,111.25 L346.97,110.89 L347.47,111.14 L347.96,110.78 L348.46,110.85 L348.96,110.99 L349.45,110.75 L349.95,111.09 L350.44,111.13 L350.94,111.3 L351.43,111.01 L351.93,111.12 L352.42,111.06 L352.92,111.15 L353.42,110.88 L353.91,111.39 L354.41,111.23 L354.9,110.93 L355.4,110.8 L355.89,110.99 L356.39,111.19 L356.88,111.24 L357.38,111.02 L357.88,111.01 L358.37,110.71 L358.87,111.3 L359.36,110.77 L359.86,111.05 L360.35,110.83 L360.85,111 L361.35,110.79 L361.84,111.11 L362.34,111.22 L362.83,111.15 L363.33,111.12 L363.82,111.12 L364.32,110.69 L364.81,110.66 L365.31,111.02 L365.81,111.22 L366.3,111.09 L366.8,111.3 L367.29,111.02 L367.79,111.14 L368.28,111.1 L368.78,111.37 L369.27,111.55 L369.77,111.27 L370.27,111.19 L370.76,110.98 L371.26,110.97 L371.75,111.14 L372.25,110.98 L372.74,110.64 L373.24,111.1 L373.74,111.17 L374.23,111.06 L374.73,111.21 L375.22,111.27 L375.72,111.03 L376.21,110.71 L376.71,111.28 L377.2,110.96 L377.7,110.87" fill="none" stroke="#ff0000" stroke-width="1.15" stroke-linejoin="round"/>
</g>
<rect x="51.1" y="3.65" width="326.59999999999997" height="110.55" fill="none" stroke="#111" stroke-width="1.1"/>
<path d="M51.1,114.2 v-3.9 M51.1,3.65 v3.9 M105.53,114.2 v-3.9 M105.53,3.65 v3.9 M159.97,114.2 v-3.9 M159.97,3.65 v3.9 M214.4,114.2 v-3.9 M214.4,3.65 v3.9 M268.83,114.2 v-3.9 M268.83,3.65 v3.9 M323.27,114.2 v-3.9 M323.27,3.65 v3.9 M377.7,114.2 v-3.9 M377.7,3.65 v3.9 M51.1,111.35 h3.9 M377.7,111.35 h-3.9 M51.1,90.87 h3.9 M377.7,90.87 h-3.9 M51.1,70.39 h3.9 M377.7,70.39 h-3.9 M51.1,49.91 h3.9 M377.7,49.91 h-3.9 M51.1,29.43 h3.9 M377.7,29.43 h-3.9 M51.1,8.95 h3.9 M377.7,8.95 h-3.9" stroke="#111" stroke-width="1.0" fill="none"/>
<g clip-path="url(#cb)">
<path d="M51.3,309.2 L51.57,307.16 L51.84,304.74 L52.12,302.18 L52.39,299.56 L52.66,296.92 L52.93,294.3 L53.21,291.73 L53.48,289.23 L53.75,286.81 L54.02,284.48 L54.29,282.24 L54.57,280.09 L54.84,278.05 L55.11,276.1 L55.38,274.24 L55.66,272.48 L55.93,270.82 L56.2,269.24 L56.47,267.75 L56.74,266.34 L57.02,265 L57.29,263.72 L57.56,262.5 L57.83,261.33 L58.11,260.2 L58.38,259.12 L58.65,258.08 L58.92,257.07 L59.2,256.1 L59.47,255.15 L59.74,254.24 L60.01,253.35 L60.28,252.48 L60.56,251.63 L60.83,250.81 L61.1,250 L61.37,249.21 L61.65,248.44 L61.92,247.68 L62.19,246.93 L62.46,246.2 L62.73,245.48 L63.01,244.77 L63.28,244.07 L63.55,243.38 L63.82,242.7 L64.1,242.03 L64.37,241.37 L64.64,240.71 L64.91,240.06 L65.18,239.42 L65.46,238.78 L65.73,238.15 L66,237.52 L66.27,236.9 L66.55,236.28 L66.82,235.67 L67.09,235.07 L67.36,234.47 L67.63,233.87 L67.91,233.28 L68.18,232.69 L68.45,232.11 L68.72,231.54 L69,230.97 L69.27,230.41 L69.54,229.85 L69.81,229.29 L70.09,228.74 L70.36,228.2 L70.63,227.66 L70.9,227.13 L71.17,226.6 L71.45,226.08 L71.72,225.56 L71.99,225.05 L72.26,224.54 L72.54,224.03 L72.81,223.54 L73.08,223.04 L73.62,222.07 L74.17,221.12 L74.71,220.18 L75.26,219.26 L75.8,218.36 L76.35,217.48 L76.89,216.62 L77.44,215.77 L77.98,214.94 L78.53,214.13 L79.07,213.33 L79.61,212.54 L80.16,211.77 L80.7,211.02 L81.25,210.28 L81.79,209.56 L82.34,208.85 L82.88,208.15 L83.43,207.46 L83.97,206.79 L84.51,206.14 L85.06,205.49 L85.6,204.86 L86.15,204.24 L86.69,203.63 L87.24,203.03 L87.78,202.44 L88.33,201.87 L88.87,201.3 L89.41,200.75 L89.96,200.21 L90.5,199.67 L91.05,199.15 L91.59,198.64 L92.14,198.13 L92.68,197.64 L93.23,197.15 L93.77,196.68 L94.32,196.21 L94.86,195.75 L95.4,195.3 L95.95,194.86 L96.49,194.42 L97.04,193.99 L97.58,193.57 L98.13,193.16 L98.67,192.76 L99.22,192.36 L99.76,191.96 L100.31,191.58 L100.85,191.2 L101.39,190.83 L101.94,190.46 L102.48,190.09 L103.03,189.74 L103.57,189.39 L104.12,189.04 L104.66,188.7 L105.21,188.36 L105.75,188.03 L106.29,187.71 L106.84,187.39 L107.38,187.07 L107.93,186.76 L108.47,186.45 L109.02,186.15 L109.56,185.85 L110.11,185.55 L110.65,185.26 L111.19,184.97 L111.74,184.69 L112.28,184.41 L112.83,184.13 L113.37,183.86 L113.92,183.59 L114.46,183.32 L115.01,183.06 L115.55,182.8 L116.1,182.54 L116.64,182.29 L117.18,182.04 L117.73,181.79 L118.27,181.54 L118.82,181.3 L119.36,181.06 L119.91,180.83 L120.45,180.59 L121,180.36 L121.54,180.13 L122.08,179.91 L122.63,179.69 L123.17,179.46 L123.72,179.25 L124.26,179.03 L124.81,178.82 L125.35,178.61 L125.9,178.4 L126.44,178.19 L126.99,177.99 L127.53,177.79 L128.07,177.59 L128.62,177.39 L129.16,177.19 L129.71,177 L130.25,176.81 L130.8,176.62 L131.34,176.44 L131.89,176.25 L132.43,176.07 L132.97,175.89 L133.52,175.71 L134.06,175.53 L134.61,175.36 L135.15,175.19 L135.7,175.02 L136.24,174.85 L136.79,174.68 L137.33,174.52 L137.88,174.35 L138.42,174.19 L138.96,174.03 L139.51,173.87 L140.05,173.72 L140.6,173.56 L141.14,173.41 L141.69,173.26 L142.23,173.11 L142.78,172.96 L143.32,172.81 L143.87,172.67 L144.41,172.52 L144.95,172.38 L145.5,172.24 L146.04,172.1 L146.59,171.97 L147.13,171.83 L147.68,171.7 L148.22,171.56 L148.77,171.43 L149.31,171.3 L149.85,171.17 L150.4,171.05 L150.94,170.92 L151.49,170.8 L152.03,170.68 L152.58,170.55 L153.12,170.43 L153.67,170.31 L154.21,170.2 L154.75,170.08 L155.3,169.97 L155.84,169.85 L156.39,169.74 L156.93,169.63 L157.48,169.52 L158.02,169.41 L158.57,169.3 L159.11,169.19 L159.66,169.09 L160.2,168.99 L160.74,168.88 L161.29,168.78 L161.83,168.68 L162.38,168.58 L162.92,168.48 L163.47,168.38 L164.01,168.29 L164.56,168.19 L165.1,168.1 L165.64,168.01 L166.19,167.91 L166.73,167.82 L167.28,167.73 L167.82,167.64 L168.37,167.56 L168.91,167.47 L169.46,167.38 L170,167.3 L170.55,167.21 L171.09,167.13 L171.63,167.05 L172.18,166.97 L172.72,166.89 L173.27,166.81 L173.81,166.73 L174.36,166.65 L174.9,166.57 L175.45,166.5 L175.99,166.42 L176.53,166.35 L177.08,166.28 L177.62,166.21 L178.17,166.13 L178.71,166.06 L179.26,165.99 L179.8,165.92 L180.35,165.86 L180.89,165.79 L181.44,165.72 L181.98,165.66 L182.52,165.59 L183.07,165.53 L183.61,165.47 L184.16,165.4 L184.7,165.34 L185.25,165.28 L185.79,165.22 L186.34,165.16 L186.88,165.1 L187.43,165.05 L187.97,164.99 L188.51,164.93 L189.06,164.88 L189.6,164.82 L190.15,164.77 L190.69,164.71 L191.24,164.66 L191.78,164.61 L192.33,164.56 L192.87,164.51 L193.41,164.46 L193.96,164.41 L194.5,164.36 L195.05,164.31 L195.59,164.26 L196.14,164.21 L196.68,164.17 L197.23,164.12 L197.77,164.08 L198.31,164.03 L198.86,163.99 L199.4,163.95 L199.95,163.9 L200.49,163.86 L201.04,163.82 L201.58,163.78 L202.13,163.74 L202.67,163.7 L203.22,163.66 L203.76,163.62 L204.3,163.59 L204.85,163.55 L205.39,163.51 L205.94,163.48 L206.48,163.44 L207.03,163.41 L207.57,163.37 L208.12,163.34 L208.66,163.31 L209.2,163.27 L209.75,163.24 L210.29,163.21 L210.84,163.18 L211.38,163.15 L211.93,163.12 L212.47,163.09 L213.02,163.06 L213.56,163.03 L214.11,163 L214.65,162.97 L215.19,162.95 L215.74,162.92 L216.28,162.89 L216.83,162.87 L217.37,162.84 L217.92,162.82 L218.46,162.79 L219.01,162.77 L219.55,162.75 L220.09,162.72 L220.64,162.7 L221.18,162.68 L221.73,162.66 L222.27,162.64 L222.82,162.62 L223.36,162.6 L223.91,162.58 L224.45,162.56 L225,162.54 L225.54,162.52 L226.08,162.5 L226.63,162.49 L227.17,162.47 L227.72,162.45 L228.26,162.44 L228.81,162.42 L229.35,162.41 L229.9,162.39 L230.44,162.38 L230.99,162.36 L231.53,162.35 L232.07,162.33 L232.62,162.32 L233.16,162.31 L233.71,162.3 L234.25,162.29 L234.8,162.27 L235.34,162.26 L235.89,162.25 L236.43,162.24 L236.97,162.23 L237.52,162.22 L238.06,162.21 L238.61,162.2 L239.15,162.2 L239.7,162.19 L240.24,162.18 L240.79,162.17 L241.33,162.17 L241.88,162.16 L242.42,162.15 L242.96,162.15 L243.51,162.14 L244.05,162.14 L244.6,162.13 L245.14,162.13 L245.69,162.12 L246.23,162.12 L246.78,162.11 L247.32,162.11 L247.86,162.11 L248.41,162.11 L248.95,162.1 L249.5,162.1 L250.04,162.1 L250.59,162.1 L251.13,162.1 L251.68,162.1 L252.22,162.1 L252.76,162.1 L253.31,162.1 L253.85,162.1 L254.4,162.1 L254.94,162.1 L255.49,162.1 L256.03,162.1 L256.58,162.1 L257.12,162.11 L257.67,162.11 L258.21,162.11 L258.75,162.12 L259.3,162.12 L259.84,162.12 L260.39,162.13 L260.93,162.13 L261.48,162.14 L262.02,162.14 L262.57,162.15 L263.11,162.15 L263.65,162.16 L264.2,162.16 L264.74,162.17 L265.29,162.18 L265.83,162.18 L266.38,162.19 L266.92,162.2 L267.47,162.2 L268.01,162.21 L268.56,162.22 L269.1,162.23 L269.64,162.24 L270.19,162.25 L270.73,162.26 L271.28,162.26 L271.82,162.27 L272.37,162.28 L272.91,162.29 L273.46,162.3 L274,162.32 L274.55,162.33 L275.09,162.34 L275.63,162.35 L276.18,162.36 L276.72,162.37 L277.27,162.38 L277.81,162.4 L278.36,162.41 L278.9,162.42 L279.45,162.43 L279.99,162.45 L280.53,162.46 L281.08,162.47 L281.62,162.49 L282.17,162.5 L282.71,162.52 L283.26,162.53 L283.8,162.55 L284.35,162.56 L284.89,162.58 L285.44,162.59 L285.98,162.61 L286.52,162.62 L287.07,162.64 L287.61,162.65 L288.16,162.67 L288.7,162.69 L289.25,162.7 L289.79,162.72 L290.34,162.74 L290.88,162.76 L291.42,162.77 L291.97,162.79 L292.51,162.81 L293.06,162.83 L293.6,162.85 L294.15,162.86 L294.69,162.88 L295.24,162.9 L295.78,162.92 L296.32,162.94 L296.87,162.96 L297.41,162.98 L297.96,163 L298.5,163.02 L299.05,163.04 L299.59,163.06 L300.14,163.08 L300.68,163.1 L301.23,163.12 L301.77,163.15 L302.31,163.17 L302.86,163.19 L303.4,163.21 L303.95,163.23 L304.49,163.25 L305.04,163.28 L305.58,163.3 L306.13,163.32 L306.67,163.35 L307.21,163.37 L307.76,163.39 L308.3,163.41 L308.85,163.44 L309.39,163.46 L309.94,163.49 L310.48,163.51 L311.03,163.53 L311.57,163.56 L312.12,163.58 L312.66,163.61 L313.2,163.63 L313.75,163.66 L314.29,163.68 L314.84,163.71 L315.38,163.73 L315.93,163.76 L316.47,163.78 L317.02,163.81 L317.56,163.84 L318.11,163.86 L318.65,163.89 L319.19,163.92 L319.74,163.94 L320.28,163.97 L320.83,164 L321.37,164.02 L321.92,164.05 L322.46,164.08 L323.01,164.11 L323.55,164.13 L324.09,164.16 L324.64,164.19 L325.18,164.22 L325.73,164.25 L326.27,164.28 L326.82,164.3 L327.36,164.33 L327.91,164.36 L328.45,164.39 L329,164.42 L329.54,164.45 L330.08,164.48 L330.63,164.51 L331.17,164.54 L331.72,164.57 L332.26,164.6 L332.81,164.63 L333.35,164.66 L333.9,164.69 L334.44,164.72 L334.98,164.75 L335.53,164.78 L336.07,164.81 L336.62,164.84 L337.16,164.87 L337.71,164.9 L338.25,164.94 L338.8,164.97 L339.34,165 L339.88,165.03 L340.43,165.06 L340.97,165.09 L341.52,165.13 L342.06,165.16 L342.61,165.19 L343.15,165.22 L343.7,165.26 L344.24,165.29 L344.79,165.32 L345.33,165.36 L345.87,165.39 L346.42,165.42 L346.96,165.46 L347.51,165.49 L348.05,165.52 L348.6,165.56 L349.14,165.59 L349.69,165.62 L350.23,165.66 L350.78,165.69 L351.32,165.73 L351.86,165.76 L352.41,165.8 L352.95,165.83 L353.5,165.86 L354.04,165.9 L354.59,165.93 L355.13,165.97 L355.68,166 L356.22,166.04 L356.76,166.08 L357.31,166.11 L357.85,166.15 L358.4,166.18 L358.94,166.22 L359.49,166.25 L360.03,166.29 L360.58,166.33 L361.12,166.36 L361.67,166.4 L362.21,166.43 L362.75,166.47 L363.3,166.51 L363.84,166.54 L364.39,166.58 L364.93,166.62 L365.48,166.66 L366.02,166.69 L366.57,166.73 L367.11,166.77 L367.65,166.8 L368.2,166.84 L368.74,166.88 L369.29,166.92 L369.83,166.95 L370.38,166.99 L370.92,167.03 L371.47,167.07 L372.01,167.11 L372.56,167.14 L373.1,167.18 L373.64,167.22 L374.19,167.26 L374.73,167.3 L375.28,167.34 L375.82,167.38 L376.37,167.42 L376.91,167.45 L377.46,167.49 L378,167.53 L378,177.76 L377.46,177.76 L376.91,177.77 L376.37,177.77 L375.82,177.78 L375.28,177.79 L374.73,177.79 L374.19,177.8 L373.64,177.8 L373.1,177.81 L372.56,177.82 L372.01,177.82 L371.47,177.83 L370.92,177.84 L370.38,177.84 L369.83,177.85 L369.29,177.86 L368.74,177.86 L368.2,177.87 L367.65,177.88 L367.11,177.89 L366.57,177.89 L366.02,177.9 L365.48,177.91 L364.93,177.92 L364.39,177.93 L363.84,177.93 L363.3,177.94 L362.75,177.95 L362.21,177.96 L361.67,177.97 L361.12,177.98 L360.58,177.98 L360.03,177.99 L359.49,178 L358.94,178.01 L358.4,178.02 L357.85,178.03 L357.31,178.04 L356.76,178.05 L356.22,178.06 L355.68,178.07 L355.13,178.08 L354.59,178.09 L354.04,178.1 L353.5,178.11 L352.95,178.12 L352.41,178.13 L351.86,178.14 L351.32,178.15 L350.78,178.16 L350.23,178.18 L349.69,178.19 L349.14,178.2 L348.6,178.21 L348.05,178.22 L347.51,178.23 L346.96,178.24 L346.42,178.26 L345.87,178.27 L345.33,178.28 L344.79,178.29 L344.24,178.31 L343.7,178.32 L343.15,178.33 L342.61,178.34 L342.06,178.36 L341.52,178.37 L340.97,178.38 L340.43,178.4 L339.88,178.41 L339.34,178.43 L338.8,178.44 L338.25,178.45 L337.71,178.47 L337.16,178.48 L336.62,178.5 L336.07,178.51 L335.53,178.53 L334.98,178.54 L334.44,178.56 L333.9,178.57 L333.35,178.59 L332.81,178.6 L332.26,178.62 L331.72,178.63 L331.17,178.65 L330.63,178.67 L330.08,178.68 L329.54,178.7 L329,178.71 L328.45,178.73 L327.91,178.75 L327.36,178.76 L326.82,178.78 L326.27,178.8 L325.73,178.82 L325.18,178.83 L324.64,178.85 L324.09,178.87 L323.55,178.89 L323.01,178.91 L322.46,178.92 L321.92,178.94 L321.37,178.96 L320.83,178.98 L320.28,179 L319.74,179.02 L319.19,179.04 L318.65,179.06 L318.11,179.08 L317.56,179.1 L317.02,179.12 L316.47,179.14 L315.93,179.16 L315.38,179.18 L314.84,179.2 L314.29,179.22 L313.75,179.24 L313.2,179.26 L312.66,179.28 L312.12,179.3 L311.57,179.33 L311.03,179.35 L310.48,179.37 L309.94,179.39 L309.39,179.41 L308.85,179.44 L308.3,179.46 L307.76,179.48 L307.21,179.5 L306.67,179.53 L306.13,179.55 L305.58,179.57 L305.04,179.6 L304.49,179.62 L303.95,179.65 L303.4,179.67 L302.86,179.7 L302.31,179.72 L301.77,179.75 L301.23,179.77 L300.68,179.8 L300.14,179.82 L299.59,179.85 L299.05,179.87 L298.5,179.9 L297.96,179.92 L297.41,179.95 L296.87,179.98 L296.32,180 L295.78,180.03 L295.24,180.06 L294.69,180.09 L294.15,180.11 L293.6,180.14 L293.06,180.17 L292.51,180.2 L291.97,180.23 L291.42,180.26 L290.88,180.28 L290.34,180.31 L289.79,180.34 L289.25,180.37 L288.7,180.4 L288.16,180.43 L287.61,180.46 L287.07,180.49 L286.52,180.52 L285.98,180.55 L285.44,180.58 L284.89,180.62 L284.35,180.65 L283.8,180.68 L283.26,180.71 L282.71,180.74 L282.17,180.78 L281.62,180.81 L281.08,180.84 L280.53,180.87 L279.99,180.91 L279.45,180.94 L278.9,180.97 L278.36,181.01 L277.81,181.04 L277.27,181.08 L276.72,181.11 L276.18,181.15 L275.63,181.18 L275.09,181.22 L274.55,181.25 L274,181.29 L273.46,181.32 L272.91,181.36 L272.37,181.4 L271.82,181.43 L271.28,181.47 L270.73,181.51 L270.19,181.55 L269.64,181.58 L269.1,181.62 L268.56,181.66 L268.01,181.7 L267.47,181.74 L266.92,181.78 L266.38,181.82 L265.83,181.86 L265.29,181.9 L264.74,181.94 L264.2,181.98 L263.65,182.02 L263.11,182.06 L262.57,182.1 L262.02,182.14 L261.48,182.18 L260.93,182.22 L260.39,182.27 L259.84,182.31 L259.3,182.35 L258.75,182.4 L258.21,182.44 L257.67,182.48 L257.12,182.53 L256.58,182.57 L256.03,182.62 L255.49,182.66 L254.94,182.71 L254.4,182.75 L253.85,182.8 L253.31,182.84 L252.76,182.89 L252.22,182.94 L251.68,182.98 L251.13,183.03 L250.59,183.08 L250.04,183.13 L249.5,183.17 L248.95,183.22 L248.41,183.27 L247.86,183.32 L247.32,183.37 L246.78,183.42 L246.23,183.47 L245.69,183.52 L245.14,183.57 L244.6,183.62 L244.05,183.68 L243.51,183.73 L242.96,183.78 L242.42,183.83 L241.88,183.88 L241.33,183.94 L240.79,183.99 L240.24,184.05 L239.7,184.1 L239.15,184.15 L238.61,184.21 L238.06,184.26 L237.52,184.32 L236.97,184.38 L236.43,184.43 L235.89,184.49 L235.34,184.55 L234.8,184.6 L234.25,184.66 L233.71,184.72 L233.16,184.78 L232.62,184.84 L232.07,184.9 L231.53,184.96 L230.99,185.02 L230.44,185.08 L229.9,185.14 L229.35,185.2 L228.81,185.26 L228.26,185.32 L227.72,185.38 L227.17,185.45 L226.63,185.51 L226.08,185.57 L225.54,185.64 L225,185.7 L224.45,185.77 L223.91,185.83 L223.36,185.9 L222.82,185.96 L222.27,186.03 L221.73,186.1 L221.18,186.16 L220.64,186.23 L220.09,186.3 L219.55,186.37 L219.01,186.44 L218.46,186.51 L217.92,186.58 L217.37,186.65 L216.83,186.72 L216.28,186.79 L215.74,186.86 L215.19,186.93 L214.65,187.01 L214.11,187.08 L213.56,187.15 L213.02,187.23 L212.47,187.3 L211.93,187.38 L211.38,187.45 L210.84,187.53 L210.29,187.61 L209.75,187.68 L209.2,187.76 L208.66,187.84 L208.12,187.92 L207.57,188 L207.03,188.08 L206.48,188.16 L205.94,188.24 L205.39,188.32 L204.85,188.4 L204.3,188.48 L203.76,188.56 L203.22,188.65 L202.67,188.73 L202.13,188.82 L201.58,188.9 L201.04,188.99 L200.49,189.07 L199.95,189.16 L199.4,189.24 L198.86,189.33 L198.31,189.42 L197.77,189.51 L197.23,189.6 L196.68,189.69 L196.14,189.78 L195.59,189.87 L195.05,189.96 L194.5,190.05 L193.96,190.15 L193.41,190.24 L192.87,190.34 L192.33,190.43 L191.78,190.53 L191.24,190.62 L190.69,190.72 L190.15,190.82 L189.6,190.91 L189.06,191.01 L188.51,191.11 L187.97,191.21 L187.43,191.31 L186.88,191.41 L186.34,191.52 L185.79,191.62 L185.25,191.72 L184.7,191.82 L184.16,191.93 L183.61,192.03 L183.07,192.14 L182.52,192.25 L181.98,192.36 L181.44,192.46 L180.89,192.57 L180.35,192.68 L179.8,192.79 L179.26,192.9 L178.71,193.02 L178.17,193.13 L177.62,193.24 L177.08,193.36 L176.53,193.47 L175.99,193.59 L175.45,193.7 L174.9,193.82 L174.36,193.94 L173.81,194.06 L173.27,194.18 L172.72,194.3 L172.18,194.42 L171.63,194.54 L171.09,194.67 L170.55,194.79 L170,194.91 L169.46,195.04 L168.91,195.17 L168.37,195.29 L167.82,195.42 L167.28,195.55 L166.73,195.68 L166.19,195.81 L165.64,195.95 L165.1,196.08 L164.56,196.21 L164.01,196.35 L163.47,196.48 L162.92,196.62 L162.38,196.76 L161.83,196.9 L161.29,197.04 L160.74,197.18 L160.2,197.32 L159.66,197.46 L159.11,197.6 L158.57,197.75 L158.02,197.89 L157.48,198.04 L156.93,198.19 L156.39,198.34 L155.84,198.49 L155.3,198.64 L154.75,198.79 L154.21,198.95 L153.67,199.1 L153.12,199.26 L152.58,199.41 L152.03,199.57 L151.49,199.73 L150.94,199.89 L150.4,200.05 L149.85,200.21 L149.31,200.38 L148.77,200.54 L148.22,200.71 L147.68,200.88 L147.13,201.05 L146.59,201.22 L146.04,201.39 L145.5,201.56 L144.95,201.74 L144.41,201.91 L143.87,202.09 L143.32,202.27 L142.78,202.45 L142.23,202.63 L141.69,202.81 L141.14,202.99 L140.6,203.18 L140.05,203.36 L139.51,203.55 L138.96,203.74 L138.42,203.93 L137.88,204.13 L137.33,204.32 L136.79,204.52 L136.24,204.71 L135.7,204.91 L135.15,205.11 L134.61,205.31 L134.06,205.52 L133.52,205.72 L132.97,205.93 L132.43,206.14 L131.89,206.35 L131.34,206.56 L130.8,206.77 L130.25,206.99 L129.71,207.21 L129.16,207.43 L128.62,207.65 L128.07,207.87 L127.53,208.09 L126.99,208.32 L126.44,208.55 L125.9,208.78 L125.35,209.01 L124.81,209.25 L124.26,209.48 L123.72,209.72 L123.17,209.96 L122.63,210.2 L122.08,210.45 L121.54,210.7 L121,210.94 L120.45,211.2 L119.91,211.45 L119.36,211.7 L118.82,211.96 L118.27,212.22 L117.73,212.48 L117.18,212.75 L116.64,213.02 L116.1,213.29 L115.55,213.56 L115.01,213.83 L114.46,214.11 L113.92,214.39 L113.37,214.67 L112.83,214.96 L112.28,215.24 L111.74,215.53 L111.19,215.83 L110.65,216.12 L110.11,216.42 L109.56,216.72 L109.02,217.02 L108.47,217.33 L107.93,217.64 L107.38,217.95 L106.84,218.27 L106.29,218.59 L105.75,218.91 L105.21,219.24 L104.66,219.56 L104.12,219.9 L103.57,220.23 L103.03,220.57 L102.48,220.91 L101.94,221.26 L101.39,221.61 L100.85,221.96 L100.31,222.32 L99.76,222.68 L99.22,223.04 L98.67,223.41 L98.13,223.78 L97.58,224.16 L97.04,224.54 L96.49,224.92 L95.95,225.31 L95.4,225.71 L94.86,226.11 L94.32,226.51 L93.77,226.92 L93.23,227.33 L92.68,227.75 L92.14,228.18 L91.59,228.61 L91.05,229.04 L90.5,229.48 L89.96,229.93 L89.41,230.38 L88.87,230.84 L88.33,231.3 L87.78,231.77 L87.24,232.25 L86.69,232.73 L86.15,233.22 L85.6,233.72 L85.06,234.23 L84.51,234.74 L83.97,235.26 L83.43,235.79 L82.88,236.32 L82.34,236.87 L81.79,237.42 L81.25,237.98 L80.7,238.55 L80.16,239.13 L79.61,239.72 L79.07,240.32 L78.53,240.93 L77.98,241.55 L77.44,242.19 L76.89,242.83 L76.35,243.48 L75.8,244.15 L75.26,244.83 L74.71,245.53 L74.17,246.23 L73.62,246.96 L73.08,247.69 L72.81,248.07 L72.54,248.44 L72.26,248.83 L71.99,249.21 L71.72,249.6 L71.45,250 L71.17,250.4 L70.9,250.8 L70.63,251.21 L70.36,251.62 L70.09,252.04 L69.81,252.46 L69.54,252.89 L69.27,253.32 L69,253.76 L68.72,254.2 L68.45,254.65 L68.18,255.1 L67.91,255.56 L67.63,256.03 L67.36,256.5 L67.09,256.98 L66.82,257.46 L66.55,257.95 L66.27,258.45 L66,258.96 L65.73,259.47 L65.46,259.99 L65.18,260.51 L64.91,261.05 L64.64,261.59 L64.37,262.14 L64.1,262.7 L63.82,263.26 L63.55,263.84 L63.28,264.42 L63.01,265.02 L62.73,265.62 L62.46,266.24 L62.19,266.86 L61.92,267.5 L61.65,268.14 L61.37,268.8 L61.1,269.47 L60.83,270.15 L60.56,270.85 L60.28,271.56 L60.01,272.28 L59.74,273.02 L59.47,273.77 L59.2,274.54 L58.92,275.32 L58.65,276.12 L58.38,276.94 L58.11,277.78 L57.83,278.63 L57.56,279.51 L57.29,280.41 L57.02,281.33 L56.74,282.27 L56.47,283.24 L56.2,284.23 L55.93,285.25 L55.66,286.3 L55.38,287.38 L55.11,288.5 L54.84,289.65 L54.57,290.83 L54.29,292.05 L54.02,293.32 L53.75,294.63 L53.48,295.99 L53.21,297.4 L52.93,298.86 L52.66,300.39 L52.39,301.98 L52.12,303.64 L51.84,305.38 L51.57,307.2 L51.3,309.2 Z" fill="#dceffc"/>
<path d="M51.3,309.2 L51.57,307.16 L51.84,304.74 L52.12,302.18 L52.39,299.56 L52.66,296.92 L52.93,294.3 L53.21,291.73 L53.48,289.23 L53.75,286.81 L54.02,284.48 L54.29,282.24 L54.57,280.09 L54.84,278.05 L55.11,276.1 L55.38,274.24 L55.66,272.48 L55.93,270.82 L56.2,269.24 L56.47,267.75 L56.74,266.34 L57.02,265 L57.29,263.72 L57.56,262.5 L57.83,261.33 L58.11,260.2 L58.38,259.12 L58.65,258.08 L58.92,257.07 L59.2,256.1 L59.47,255.15 L59.74,254.24 L60.01,253.35 L60.28,252.48 L60.56,251.63 L60.83,250.81 L61.1,250 L61.37,249.21 L61.65,248.44 L61.92,247.68 L62.19,246.93 L62.46,246.2 L62.73,245.48 L63.01,244.77 L63.28,244.07 L63.55,243.38 L63.82,242.7 L64.1,242.03 L64.37,241.37 L64.64,240.71 L64.91,240.06 L65.18,239.42 L65.46,238.78 L65.73,238.15 L66,237.52 L66.27,236.9 L66.55,236.28 L66.82,235.67 L67.09,235.07 L67.36,234.47 L67.63,233.87 L67.91,233.28 L68.18,232.69 L68.45,232.11 L68.72,231.54 L69,230.97 L69.27,230.41 L69.54,229.85 L69.81,229.29 L70.09,228.74 L70.36,228.2 L70.63,227.66 L70.9,227.13 L71.17,226.6 L71.45,226.08 L71.72,225.56 L71.99,225.05 L72.26,224.54 L72.54,224.03 L72.81,223.54 L73.08,223.04 L73.62,222.07 L74.17,221.12 L74.71,220.18 L75.26,219.26 L75.8,218.36 L76.35,217.48 L76.89,216.62 L77.44,215.77 L77.98,214.94 L78.53,214.13 L79.07,213.33 L79.61,212.54 L80.16,211.77 L80.7,211.02 L81.25,210.28 L81.79,209.56 L82.34,208.85 L82.88,208.15 L83.43,207.46 L83.97,206.79 L84.51,206.14 L85.06,205.49 L85.6,204.86 L86.15,204.24 L86.69,203.63 L87.24,203.03 L87.78,202.44 L88.33,201.87 L88.87,201.3 L89.41,200.75 L89.96,200.21 L90.5,199.67 L91.05,199.15 L91.59,198.64 L92.14,198.13 L92.68,197.64 L93.23,197.15 L93.77,196.68 L94.32,196.21 L94.86,195.75 L95.4,195.3 L95.95,194.86 L96.49,194.42 L97.04,193.99 L97.58,193.57 L98.13,193.16 L98.67,192.76 L99.22,192.36 L99.76,191.96 L100.31,191.58 L100.85,191.2 L101.39,190.83 L101.94,190.46 L102.48,190.09 L103.03,189.74 L103.57,189.39 L104.12,189.04 L104.66,188.7 L105.21,188.36 L105.75,188.03 L106.29,187.71 L106.84,187.39 L107.38,187.07 L107.93,186.76 L108.47,186.45 L109.02,186.15 L109.56,185.85 L110.11,185.55 L110.65,185.26 L111.19,184.97 L111.74,184.69 L112.28,184.41 L112.83,184.13 L113.37,183.86 L113.92,183.59 L114.46,183.32 L115.01,183.06 L115.55,182.8 L116.1,182.54 L116.64,182.29 L117.18,182.04 L117.73,181.79 L118.27,181.54 L118.82,181.3 L119.36,181.06 L119.91,180.83 L120.45,180.59 L121,180.36 L121.54,180.13 L122.08,179.91 L122.63,179.69 L123.17,179.46 L123.72,179.25 L124.26,179.03 L124.81,178.82 L125.35,178.61 L125.9,178.4 L126.44,178.19 L126.99,177.99 L127.53,177.79 L128.07,177.59 L128.62,177.39 L129.16,177.19 L129.71,177 L130.25,176.81 L130.8,176.62 L131.34,176.44 L131.89,176.25 L132.43,176.07 L132.97,175.89 L133.52,175.71 L134.06,175.53 L134.61,175.36 L135.15,175.19 L135.7,175.02 L136.24,174.85 L136.79,174.68 L137.33,174.52 L137.88,174.35 L138.42,174.19 L138.96,174.03 L139.51,173.87 L140.05,173.72 L140.6,173.56 L141.14,173.41 L141.69,173.26 L142.23,173.11 L142.78,172.96 L143.32,172.81 L143.87,172.67 L144.41,172.52 L144.95,172.38 L145.5,172.24 L146.04,172.1 L146.59,171.97 L147.13,171.83 L147.68,171.7 L148.22,171.56 L148.77,171.43 L149.31,171.3 L149.85,171.17 L150.4,171.05 L150.94,170.92 L151.49,170.8 L152.03,170.68 L152.58,170.55 L153.12,170.43 L153.67,170.31 L154.21,170.2 L154.75,170.08 L155.3,169.97 L155.84,169.85 L156.39,169.74 L156.93,169.63 L157.48,169.52 L158.02,169.41 L158.57,169.3 L159.11,169.19 L159.66,169.09 L160.2,168.99 L160.74,168.88 L161.29,168.78 L161.83,168.68 L162.38,168.58 L162.92,168.48 L163.47,168.38 L164.01,168.29 L164.56,168.19 L165.1,168.1 L165.64,168.01 L166.19,167.91 L166.73,167.82 L167.28,167.73 L167.82,167.64 L168.37,167.56 L168.91,167.47 L169.46,167.38 L170,167.3 L170.55,167.21 L171.09,167.13 L171.63,167.05 L172.18,166.97 L172.72,166.89 L173.27,166.81 L173.81,166.73 L174.36,166.65 L174.9,166.57 L175.45,166.5 L175.99,166.42 L176.53,166.35 L177.08,166.28 L177.62,166.21 L178.17,166.13 L178.71,166.06 L179.26,165.99 L179.8,165.92 L180.35,165.86 L180.89,165.79 L181.44,165.72 L181.98,165.66 L182.52,165.59 L183.07,165.53 L183.61,165.47 L184.16,165.4 L184.7,165.34 L185.25,165.28 L185.79,165.22 L186.34,165.16 L186.88,165.1 L187.43,165.05 L187.97,164.99 L188.51,164.93 L189.06,164.88 L189.6,164.82 L190.15,164.77 L190.69,164.71 L191.24,164.66 L191.78,164.61 L192.33,164.56 L192.87,164.51 L193.41,164.46 L193.96,164.41 L194.5,164.36 L195.05,164.31 L195.59,164.26 L196.14,164.21 L196.68,164.17 L197.23,164.12 L197.77,164.08 L198.31,164.03 L198.86,163.99 L199.4,163.95 L199.95,163.9 L200.49,163.86 L201.04,163.82 L201.58,163.78 L202.13,163.74 L202.67,163.7 L203.22,163.66 L203.76,163.62 L204.3,163.59 L204.85,163.55 L205.39,163.51 L205.94,163.48 L206.48,163.44 L207.03,163.41 L207.57,163.37 L208.12,163.34 L208.66,163.31 L209.2,163.27 L209.75,163.24 L210.29,163.21 L210.84,163.18 L211.38,163.15 L211.93,163.12 L212.47,163.09 L213.02,163.06 L213.56,163.03 L214.11,163 L214.65,162.97 L215.19,162.95 L215.74,162.92 L216.28,162.89 L216.83,162.87 L217.37,162.84 L217.92,162.82 L218.46,162.79 L219.01,162.77 L219.55,162.75 L220.09,162.72 L220.64,162.7 L221.18,162.68 L221.73,162.66 L222.27,162.64 L222.82,162.62 L223.36,162.6 L223.91,162.58 L224.45,162.56 L225,162.54 L225.54,162.52 L226.08,162.5 L226.63,162.49 L227.17,162.47 L227.72,162.45 L228.26,162.44 L228.81,162.42 L229.35,162.41 L229.9,162.39 L230.44,162.38 L230.99,162.36 L231.53,162.35 L232.07,162.33 L232.62,162.32 L233.16,162.31 L233.71,162.3 L234.25,162.29 L234.8,162.27 L235.34,162.26 L235.89,162.25 L236.43,162.24 L236.97,162.23 L237.52,162.22 L238.06,162.21 L238.61,162.2 L239.15,162.2 L239.7,162.19 L240.24,162.18 L240.79,162.17 L241.33,162.17 L241.88,162.16 L242.42,162.15 L242.96,162.15 L243.51,162.14 L244.05,162.14 L244.6,162.13 L245.14,162.13 L245.69,162.12 L246.23,162.12 L246.78,162.11 L247.32,162.11 L247.86,162.11 L248.41,162.11 L248.95,162.1 L249.5,162.1 L250.04,162.1 L250.59,162.1 L251.13,162.1 L251.68,162.1 L252.22,162.1 L252.76,162.1 L253.31,162.1 L253.85,162.1 L254.4,162.1 L254.94,162.1 L255.49,162.1 L256.03,162.1 L256.58,162.1 L257.12,162.11 L257.67,162.11 L258.21,162.11 L258.75,162.12 L259.3,162.12 L259.84,162.12 L260.39,162.13 L260.93,162.13 L261.48,162.14 L262.02,162.14 L262.57,162.15 L263.11,162.15 L263.65,162.16 L264.2,162.16 L264.74,162.17 L265.29,162.18 L265.83,162.18 L266.38,162.19 L266.92,162.2 L267.47,162.2 L268.01,162.21 L268.56,162.22 L269.1,162.23 L269.64,162.24 L270.19,162.25 L270.73,162.26 L271.28,162.26 L271.82,162.27 L272.37,162.28 L272.91,162.29 L273.46,162.3 L274,162.32 L274.55,162.33 L275.09,162.34 L275.63,162.35 L276.18,162.36 L276.72,162.37 L277.27,162.38 L277.81,162.4 L278.36,162.41 L278.9,162.42 L279.45,162.43 L279.99,162.45 L280.53,162.46 L281.08,162.47 L281.62,162.49 L282.17,162.5 L282.71,162.52 L283.26,162.53 L283.8,162.55 L284.35,162.56 L284.89,162.58 L285.44,162.59 L285.98,162.61 L286.52,162.62 L287.07,162.64 L287.61,162.65 L288.16,162.67 L288.7,162.69 L289.25,162.7 L289.79,162.72 L290.34,162.74 L290.88,162.76 L291.42,162.77 L291.97,162.79 L292.51,162.81 L293.06,162.83 L293.6,162.85 L294.15,162.86 L294.69,162.88 L295.24,162.9 L295.78,162.92 L296.32,162.94 L296.87,162.96 L297.41,162.98 L297.96,163 L298.5,163.02 L299.05,163.04 L299.59,163.06 L300.14,163.08 L300.68,163.1 L301.23,163.12 L301.77,163.15 L302.31,163.17 L302.86,163.19 L303.4,163.21 L303.95,163.23 L304.49,163.25 L305.04,163.28 L305.58,163.3 L306.13,163.32 L306.67,163.35 L307.21,163.37 L307.76,163.39 L308.3,163.41 L308.85,163.44 L309.39,163.46 L309.94,163.49 L310.48,163.51 L311.03,163.53 L311.57,163.56 L312.12,163.58 L312.66,163.61 L313.2,163.63 L313.75,163.66 L314.29,163.68 L314.84,163.71 L315.38,163.73 L315.93,163.76 L316.47,163.78 L317.02,163.81 L317.56,163.84 L318.11,163.86 L318.65,163.89 L319.19,163.92 L319.74,163.94 L320.28,163.97 L320.83,164 L321.37,164.02 L321.92,164.05 L322.46,164.08 L323.01,164.11 L323.55,164.13 L324.09,164.16 L324.64,164.19 L325.18,164.22 L325.73,164.25 L326.27,164.28 L326.82,164.3 L327.36,164.33 L327.91,164.36 L328.45,164.39 L329,164.42 L329.54,164.45 L330.08,164.48 L330.63,164.51 L331.17,164.54 L331.72,164.57 L332.26,164.6 L332.81,164.63 L333.35,164.66 L333.9,164.69 L334.44,164.72 L334.98,164.75 L335.53,164.78 L336.07,164.81 L336.62,164.84 L337.16,164.87 L337.71,164.9 L338.25,164.94 L338.8,164.97 L339.34,165 L339.88,165.03 L340.43,165.06 L340.97,165.09 L341.52,165.13 L342.06,165.16 L342.61,165.19 L343.15,165.22 L343.7,165.26 L344.24,165.29 L344.79,165.32 L345.33,165.36 L345.87,165.39 L346.42,165.42 L346.96,165.46 L347.51,165.49 L348.05,165.52 L348.6,165.56 L349.14,165.59 L349.69,165.62 L350.23,165.66 L350.78,165.69 L351.32,165.73 L351.86,165.76 L352.41,165.8 L352.95,165.83 L353.5,165.86 L354.04,165.9 L354.59,165.93 L355.13,165.97 L355.68,166 L356.22,166.04 L356.76,166.08 L357.31,166.11 L357.85,166.15 L358.4,166.18 L358.94,166.22 L359.49,166.25 L360.03,166.29 L360.58,166.33 L361.12,166.36 L361.67,166.4 L362.21,166.43 L362.75,166.47 L363.3,166.51 L363.84,166.54 L364.39,166.58 L364.93,166.62 L365.48,166.66 L366.02,166.69 L366.57,166.73 L367.11,166.77 L367.65,166.8 L368.2,166.84 L368.74,166.88 L369.29,166.92 L369.83,166.95 L370.38,166.99 L370.92,167.03 L371.47,167.07 L372.01,167.11 L372.56,167.14 L373.1,167.18 L373.64,167.22 L374.19,167.26 L374.73,167.3 L375.28,167.34 L375.82,167.38 L376.37,167.42 L376.91,167.45 L377.46,167.49 L378,167.53" fill="none" stroke="#a01818" stroke-width="1.05"/>
<path d="M51.3,309.2 L51.57,307.15 L51.84,304.72 L52.12,302.15 L52.39,299.52 L52.66,296.87 L52.93,294.24 L53.21,291.66 L53.48,289.15 L53.75,286.72 L54.02,284.38 L54.29,282.13 L54.57,279.97 L54.84,277.92 L55.11,275.96 L55.38,274.09 L55.66,272.32 L55.93,270.65 L56.2,269.06 L56.47,267.57 L56.74,266.14 L57.02,264.79 L57.29,263.5 L57.56,262.27 L57.83,261.09 L58.11,259.95 L58.38,258.86 L58.65,257.81 L58.92,256.79 L59.2,255.81 L59.47,254.86 L59.74,253.93 L60.01,253.03 L60.28,252.15 L60.56,251.3 L60.83,250.46 L61.1,249.65 L61.37,248.85 L61.65,248.06 L61.92,247.29 L62.19,246.54 L62.46,245.8 L62.73,245.07 L63.01,244.35 L63.28,243.64 L63.55,242.94 L63.82,242.25 L64.1,241.56 L64.37,240.89 L64.64,240.22 L64.91,239.56 L65.18,238.91 L65.46,238.26 L65.73,237.62 L66,236.99 L66.27,236.36 L66.55,235.73 L66.82,235.11 L67.09,234.49 L67.36,233.88 L67.63,233.28 L67.91,232.68 L68.18,232.08 L68.45,231.49 L68.72,230.91 L69,230.33 L69.27,229.75 L69.54,229.18 L69.81,228.62 L70.09,228.06 L70.36,227.51 L70.63,226.96 L70.9,226.42 L71.17,225.88 L71.45,225.35 L71.72,224.82 L71.99,224.29 L72.26,223.78 L72.54,223.26 L72.81,222.75 L73.08,222.25 L73.62,221.26 L74.17,220.29 L74.71,219.33 L75.26,218.39 L75.8,217.47 L76.35,216.57 L76.89,215.69 L77.44,214.82 L77.98,213.97 L78.53,213.14 L79.07,212.32 L79.61,211.51 L80.16,210.72 L80.7,209.95 L81.25,209.19 L81.79,208.45 L82.34,207.72 L82.88,207 L83.43,206.3 L83.97,205.61 L84.51,204.95 L85.06,204.3 L85.6,203.67 L86.15,203.05 L86.69,202.44 L87.24,201.84 L87.78,201.26 L88.33,200.68 L88.87,200.12 L89.41,199.56 L89.96,199.02 L90.5,198.49 L91.05,197.96 L91.59,197.45 L92.14,196.94 L92.68,196.45 L93.23,195.96 L93.77,195.49 L94.32,195.02 L94.86,194.56 L95.4,194.11 L95.95,193.67 L96.49,193.23 L97.04,192.81 L97.58,192.39 L98.13,191.97 L98.67,191.57 L99.22,191.17 L99.76,190.78 L100.31,190.39 L100.85,190.01 L101.39,189.64 L101.94,189.27 L102.48,188.91 L103.03,188.55 L103.57,188.2 L104.12,187.85 L104.66,187.51 L105.21,187.18 L105.75,186.85 L106.29,186.52 L106.84,186.2 L107.38,185.88 L107.93,185.57 L108.47,185.26 L109.02,184.96 L109.56,184.66 L110.11,184.36 L110.65,184.07 L111.19,183.78 L111.74,183.5 L112.28,183.22 L112.83,182.94 L113.37,182.67 L113.92,182.4 L114.46,182.13 L115.01,181.87 L115.55,181.61 L116.1,181.35 L116.64,181.1 L117.18,180.85 L117.73,180.59 L118.27,180.35 L118.82,180.1 L119.36,179.86 L119.91,179.62 L120.45,179.38 L121,179.15 L121.54,178.92 L122.08,178.69 L122.63,178.46 L123.17,178.24 L123.72,178.01 L124.26,177.79 L124.81,177.58 L125.35,177.36 L125.9,177.15 L126.44,176.94 L126.99,176.73 L127.53,176.53 L128.07,176.33 L128.62,176.13 L129.16,175.93 L129.71,175.73 L130.25,175.54 L130.8,175.35 L131.34,175.16 L131.89,174.97 L132.43,174.78 L132.97,174.6 L133.52,174.42 L134.06,174.24 L134.61,174.06 L135.15,173.88 L135.7,173.71 L136.24,173.53 L136.79,173.36 L137.33,173.2 L137.88,173.03 L138.42,172.86 L138.96,172.7 L139.51,172.54 L140.05,172.38 L140.6,172.22 L141.14,172.06 L141.69,171.91 L142.23,171.76 L142.78,171.61 L143.32,171.46 L143.87,171.31 L144.41,171.16 L144.95,171.02 L145.5,170.87 L146.04,170.73 L146.59,170.59 L147.13,170.45 L147.68,170.31 L148.22,170.18 L148.77,170.04 L149.31,169.91 L149.85,169.78 L150.4,169.65 L150.94,169.52 L151.49,169.39 L152.03,169.26 L152.58,169.14 L153.12,169.01 L153.67,168.89 L154.21,168.77 L154.75,168.65 L155.3,168.53 L155.84,168.41 L156.39,168.3 L156.93,168.18 L157.48,168.07 L158.02,167.96 L158.57,167.85 L159.11,167.74 L159.66,167.63 L160.2,167.52 L160.74,167.41 L161.29,167.31 L161.83,167.2 L162.38,167.1 L162.92,167 L163.47,166.9 L164.01,166.8 L164.56,166.7 L165.1,166.6 L165.64,166.51 L166.19,166.41 L166.73,166.32 L167.28,166.22 L167.82,166.13 L168.37,166.04 L168.91,165.95 L169.46,165.86 L170,165.77 L170.55,165.68 L171.09,165.6 L171.63,165.51 L172.18,165.43 L172.72,165.34 L173.27,165.26 L173.81,165.18 L174.36,165.1 L174.9,165.02 L175.45,164.94 L175.99,164.86 L176.53,164.78 L177.08,164.71 L177.62,164.63 L178.17,164.55 L178.71,164.48 L179.26,164.41 L179.8,164.34 L180.35,164.26 L180.89,164.19 L181.44,164.12 L181.98,164.05 L182.52,163.99 L183.07,163.92 L183.61,163.85 L184.16,163.79 L184.7,163.72 L185.25,163.66 L185.79,163.59 L186.34,163.53 L186.88,163.47 L187.43,163.41 L187.97,163.35 L188.51,163.29 L189.06,163.23 L189.6,163.17 L190.15,163.11 L190.69,163.05 L191.24,163 L191.78,162.94 L192.33,162.89 L192.87,162.83 L193.41,162.78 L193.96,162.73 L194.5,162.67 L195.05,162.62 L195.59,162.57 L196.14,162.52 L196.68,162.47 L197.23,162.42 L197.77,162.37 L198.31,162.33 L198.86,162.28 L199.4,162.23 L199.95,162.19 L200.49,162.14 L201.04,162.1 L201.58,162.05 L202.13,162.01 L202.67,161.97 L203.22,161.92 L203.76,161.88 L204.3,161.84 L204.85,161.8 L205.39,161.76 L205.94,161.72 L206.48,161.68 L207.03,161.64 L207.57,161.61 L208.12,161.57 L208.66,161.53 L209.2,161.5 L209.75,161.46 L210.29,161.43 L210.84,161.39 L211.38,161.36 L211.93,161.32 L212.47,161.29 L213.02,161.26 L213.56,161.23 L214.11,161.19 L214.65,161.16 L215.19,161.13 L215.74,161.1 L216.28,161.07 L216.83,161.04 L217.37,161.02 L217.92,160.99 L218.46,160.96 L219.01,160.93 L219.55,160.91 L220.09,160.88 L220.64,160.85 L221.18,160.83 L221.73,160.8 L222.27,160.78 L222.82,160.75 L223.36,160.73 L223.91,160.71 L224.45,160.69 L225,160.66 L225.54,160.64 L226.08,160.62 L226.63,160.61 L227.17,160.59 L227.72,160.57 L228.26,160.56 L228.81,160.54 L229.35,160.53 L229.9,160.51 L230.44,160.5 L230.99,160.48 L231.53,160.47 L232.07,160.45 L232.62,160.44 L233.16,160.43 L233.71,160.42 L234.25,160.4 L234.8,160.39 L235.34,160.38 L235.89,160.37 L236.43,160.36 L236.97,160.35 L237.52,160.34 L238.06,160.33 L238.61,160.32 L239.15,160.32 L239.7,160.31 L240.24,160.3 L240.79,160.29 L241.33,160.29 L241.88,160.28 L242.42,160.27 L242.96,160.27 L243.51,160.26 L244.05,160.26 L244.6,160.25 L245.14,160.25 L245.69,160.24 L246.23,160.24 L246.78,160.23 L247.32,160.23 L247.86,160.23 L248.41,160.23 L248.95,160.22 L249.5,160.22 L250.04,160.22 L250.59,160.22 L251.13,160.22 L251.68,160.22 L252.22,160.22 L252.76,160.22 L253.31,160.22 L253.85,160.22 L254.4,160.22 L254.94,160.22 L255.49,160.22 L256.03,160.22 L256.58,160.22 L257.12,160.23 L257.67,160.23 L258.21,160.23 L258.75,160.24 L259.3,160.24 L259.84,160.24 L260.39,160.25 L260.93,160.25 L261.48,160.26 L262.02,160.26 L262.57,160.27 L263.11,160.27 L263.65,160.28 L264.2,160.28 L264.74,160.29 L265.29,160.3 L265.83,160.3 L266.38,160.31 L266.92,160.32 L267.47,160.32 L268.01,160.33 L268.56,160.34 L269.1,160.35 L269.64,160.36 L270.19,160.37 L270.73,160.37 L271.28,160.38 L271.82,160.39 L272.37,160.4 L272.91,160.41 L273.46,160.42 L274,160.43 L274.55,160.45 L275.09,160.46 L275.63,160.47 L276.18,160.48 L276.72,160.49 L277.27,160.5 L277.81,160.52 L278.36,160.53 L278.9,160.54 L279.45,160.55 L279.99,160.57 L280.53,160.58 L281.08,160.59 L281.62,160.61 L282.17,160.62 L282.71,160.64 L283.26,160.65 L283.8,160.67 L284.35,160.68 L284.89,160.7 L285.44,160.71 L285.98,160.73 L286.52,160.74 L287.07,160.76 L287.61,160.77 L288.16,160.79 L288.7,160.81 L289.25,160.82 L289.79,160.84 L290.34,160.86 L290.88,160.88 L291.42,160.9 L291.97,160.92 L292.51,160.95 L293.06,160.97 L293.6,161 L294.15,161.02 L294.69,161.05 L295.24,161.07 L295.78,161.1 L296.32,161.13 L296.87,161.15 L297.41,161.18 L297.96,161.2 L298.5,161.23 L299.05,161.26 L299.59,161.28 L300.14,161.31 L300.68,161.34 L301.23,161.37 L301.77,161.39 L302.31,161.42 L302.86,161.45 L303.4,161.48 L303.95,161.51 L304.49,161.54 L305.04,161.56 L305.58,161.59 L306.13,161.62 L306.67,161.65 L307.21,161.68 L307.76,161.71 L308.3,161.74 L308.85,161.77 L309.39,161.8 L309.94,161.83 L310.48,161.86 L311.03,161.89 L311.57,161.92 L312.12,161.95 L312.66,161.99 L313.2,162.02 L313.75,162.05 L314.29,162.08 L314.84,162.11 L315.38,162.14 L315.93,162.18 L316.47,162.21 L317.02,162.24 L317.56,162.27 L318.11,162.31 L318.65,162.34 L319.19,162.37 L319.74,162.41 L320.28,162.44 L320.83,162.47 L321.37,162.51 L321.92,162.54 L322.46,162.57 L323.01,162.61 L323.55,162.64 L324.09,162.68 L324.64,162.71 L325.18,162.75 L325.73,162.78 L326.27,162.81 L326.82,162.85 L327.36,162.89 L327.91,162.92 L328.45,162.96 L329,162.99 L329.54,163.03 L330.08,163.06 L330.63,163.1 L331.17,163.14 L331.72,163.17 L332.26,163.21 L332.81,163.24 L333.35,163.28 L333.9,163.32 L334.44,163.36 L334.98,163.39 L335.53,163.43 L336.07,163.47 L336.62,163.5 L337.16,163.54 L337.71,163.58 L338.25,163.62 L338.8,163.66 L339.34,163.69 L339.88,163.73 L340.43,163.77 L340.97,163.81 L341.52,163.85 L342.06,163.89 L342.61,163.93 L343.15,163.96 L343.7,164 L344.24,164.04 L344.79,164.08 L345.33,164.12 L345.87,164.16 L346.42,164.2 L346.96,164.24 L347.51,164.28 L348.05,164.32 L348.6,164.36 L349.14,164.4 L349.69,164.44 L350.23,164.48 L350.78,164.52 L351.32,164.56 L351.86,164.6 L352.41,164.65 L352.95,164.69 L353.5,164.73 L354.04,164.77 L354.59,164.81 L355.13,164.85 L355.68,164.89 L356.22,164.94 L356.76,164.98 L357.31,165.02 L357.85,165.06 L358.4,165.1 L358.94,165.15 L359.49,165.19 L360.03,165.23 L360.58,165.27 L361.12,165.32 L361.67,165.36 L362.21,165.4 L362.75,165.44 L363.3,165.49 L363.84,165.53 L364.39,165.57 L364.93,165.62 L365.48,165.66 L366.02,165.7 L366.57,165.75 L367.11,165.79 L367.65,165.84 L368.2,165.88 L368.74,165.92 L369.29,165.97 L369.83,166.01 L370.38,166.06 L370.92,166.1 L371.47,166.14 L372.01,166.19 L372.56,166.23 L373.1,166.28 L373.64,166.32 L374.19,166.37 L374.73,166.41 L375.28,166.46 L375.82,166.5 L376.37,166.55 L376.91,166.59 L377.46,166.64 L378,166.69" fill="none" stroke="#a01818" stroke-width="1.3" stroke-dasharray="4.4,4.4"/>
<path d="M51.3,309.2 L51.57,307.2 L51.84,305.38 L52.12,303.64 L52.39,301.98 L52.66,300.39 L52.93,298.86 L53.21,297.4 L53.48,295.99 L53.75,294.63 L54.02,293.32 L54.29,292.05 L54.57,290.83 L54.84,289.65 L55.11,288.5 L55.38,287.38 L55.66,286.3 L55.93,285.25 L56.2,284.23 L56.47,283.24 L56.74,282.27 L57.02,281.33 L57.29,280.41 L57.56,279.51 L57.83,278.63 L58.11,277.78 L58.38,276.94 L58.65,276.12 L58.92,275.32 L59.2,274.54 L59.47,273.77 L59.74,273.02 L60.01,272.28 L60.28,271.56 L60.56,270.85 L60.83,270.15 L61.1,269.47 L61.37,268.8 L61.65,268.14 L61.92,267.5 L62.19,266.86 L62.46,266.24 L62.73,265.62 L63.01,265.02 L63.28,264.42 L63.55,263.84 L63.82,263.26 L64.1,262.7 L64.37,262.14 L64.64,261.59 L64.91,261.05 L65.18,260.51 L65.46,259.99 L65.73,259.47 L66,258.96 L66.27,258.45 L66.55,257.95 L66.82,257.46 L67.09,256.98 L67.36,256.5 L67.63,256.03 L67.91,255.56 L68.18,255.1 L68.45,254.65 L68.72,254.2 L69,253.76 L69.27,253.32 L69.54,252.89 L69.81,252.46 L70.09,252.04 L70.36,251.62 L70.63,251.21 L70.9,250.8 L71.17,250.4 L71.45,250 L71.72,249.6 L71.99,249.21 L72.26,248.83 L72.54,248.44 L72.81,248.07 L73.08,247.69 L73.62,246.96 L74.17,246.23 L74.71,245.53 L75.26,244.83 L75.8,244.15 L76.35,243.48 L76.89,242.83 L77.44,242.19 L77.98,241.55 L78.53,240.93 L79.07,240.32 L79.61,239.72 L80.16,239.13 L80.7,238.55 L81.25,237.98 L81.79,237.42 L82.34,236.87 L82.88,236.32 L83.43,235.79 L83.97,235.26 L84.51,234.74 L85.06,234.23 L85.6,233.72 L86.15,233.22 L86.69,232.73 L87.24,232.25 L87.78,231.77 L88.33,231.3 L88.87,230.84 L89.41,230.38 L89.96,229.93 L90.5,229.48 L91.05,229.04 L91.59,228.61 L92.14,228.18 L92.68,227.75 L93.23,227.33 L93.77,226.92 L94.32,226.51 L94.86,226.11 L95.4,225.71 L95.95,225.31 L96.49,224.92 L97.04,224.54 L97.58,224.16 L98.13,223.78 L98.67,223.41 L99.22,223.04 L99.76,222.68 L100.31,222.32 L100.85,221.96 L101.39,221.61 L101.94,221.26 L102.48,220.91 L103.03,220.57 L103.57,220.23 L104.12,219.9 L104.66,219.56 L105.21,219.24 L105.75,218.91 L106.29,218.59 L106.84,218.27 L107.38,217.95 L107.93,217.64 L108.47,217.33 L109.02,217.02 L109.56,216.72 L110.11,216.42 L110.65,216.12 L111.19,215.83 L111.74,215.53 L112.28,215.24 L112.83,214.96 L113.37,214.67 L113.92,214.39 L114.46,214.11 L115.01,213.83 L115.55,213.56 L116.1,213.29 L116.64,213.02 L117.18,212.75 L117.73,212.48 L118.27,212.22 L118.82,211.96 L119.36,211.7 L119.91,211.45 L120.45,211.2 L121,210.94 L121.54,210.7 L122.08,210.45 L122.63,210.2 L123.17,209.96 L123.72,209.72 L124.26,209.48 L124.81,209.25 L125.35,209.01 L125.9,208.78 L126.44,208.55 L126.99,208.32 L127.53,208.09 L128.07,207.87 L128.62,207.65 L129.16,207.43 L129.71,207.21 L130.25,206.99 L130.8,206.77 L131.34,206.56 L131.89,206.35 L132.43,206.14 L132.97,205.93 L133.52,205.72 L134.06,205.52 L134.61,205.31 L135.15,205.11 L135.7,204.91 L136.24,204.71 L136.79,204.52 L137.33,204.32 L137.88,204.13 L138.42,203.93 L138.96,203.74 L139.51,203.55 L140.05,203.36 L140.6,203.18 L141.14,202.99 L141.69,202.81 L142.23,202.63 L142.78,202.45 L143.32,202.27 L143.87,202.09 L144.41,201.91 L144.95,201.74 L145.5,201.56 L146.04,201.39 L146.59,201.22 L147.13,201.05 L147.68,200.88 L148.22,200.71 L148.77,200.54 L149.31,200.38 L149.85,200.21 L150.4,200.05 L150.94,199.89 L151.49,199.73 L152.03,199.57 L152.58,199.41 L153.12,199.26 L153.67,199.1 L154.21,198.95 L154.75,198.79 L155.3,198.64 L155.84,198.49 L156.39,198.34 L156.93,198.19 L157.48,198.04 L158.02,197.89 L158.57,197.75 L159.11,197.6 L159.66,197.46 L160.2,197.32 L160.74,197.18 L161.29,197.04 L161.83,196.9 L162.38,196.76 L162.92,196.62 L163.47,196.48 L164.01,196.35 L164.56,196.21 L165.1,196.08 L165.64,195.95 L166.19,195.81 L166.73,195.68 L167.28,195.55 L167.82,195.42 L168.37,195.29 L168.91,195.17 L169.46,195.04 L170,194.91 L170.55,194.79 L171.09,194.67 L171.63,194.54 L172.18,194.42 L172.72,194.3 L173.27,194.18 L173.81,194.06 L174.36,193.94 L174.9,193.82 L175.45,193.7 L175.99,193.59 L176.53,193.47 L177.08,193.36 L177.62,193.24 L178.17,193.13 L178.71,193.02 L179.26,192.9 L179.8,192.79 L180.35,192.68 L180.89,192.57 L181.44,192.46 L181.98,192.36 L182.52,192.25 L183.07,192.14 L183.61,192.03 L184.16,191.93 L184.7,191.82 L185.25,191.72 L185.79,191.62 L186.34,191.52 L186.88,191.41 L187.43,191.31 L187.97,191.21 L188.51,191.11 L189.06,191.01 L189.6,190.91 L190.15,190.82 L190.69,190.72 L191.24,190.62 L191.78,190.53 L192.33,190.43 L192.87,190.34 L193.41,190.24 L193.96,190.15 L194.5,190.05 L195.05,189.96 L195.59,189.87 L196.14,189.78 L196.68,189.69 L197.23,189.6 L197.77,189.51 L198.31,189.42 L198.86,189.33 L199.4,189.24 L199.95,189.16 L200.49,189.07 L201.04,188.99 L201.58,188.9 L202.13,188.82 L202.67,188.73 L203.22,188.65 L203.76,188.56 L204.3,188.48 L204.85,188.4 L205.39,188.32 L205.94,188.24 L206.48,188.16 L207.03,188.08 L207.57,188 L208.12,187.92 L208.66,187.84 L209.2,187.76 L209.75,187.68 L210.29,187.61 L210.84,187.53 L211.38,187.45 L211.93,187.38 L212.47,187.3 L213.02,187.23 L213.56,187.15 L214.11,187.08 L214.65,187.01 L215.19,186.93 L215.74,186.86 L216.28,186.79 L216.83,186.72 L217.37,186.65 L217.92,186.58 L218.46,186.51 L219.01,186.44 L219.55,186.37 L220.09,186.3 L220.64,186.23 L221.18,186.16 L221.73,186.1 L222.27,186.03 L222.82,185.96 L223.36,185.9 L223.91,185.83 L224.45,185.77 L225,185.7 L225.54,185.64 L226.08,185.57 L226.63,185.51 L227.17,185.45 L227.72,185.38 L228.26,185.32 L228.81,185.26 L229.35,185.2 L229.9,185.14 L230.44,185.08 L230.99,185.02 L231.53,184.96 L232.07,184.9 L232.62,184.84 L233.16,184.78 L233.71,184.72 L234.25,184.66 L234.8,184.6 L235.34,184.55 L235.89,184.49 L236.43,184.43 L236.97,184.38 L237.52,184.32 L238.06,184.26 L238.61,184.21 L239.15,184.15 L239.7,184.1 L240.24,184.05 L240.79,183.99 L241.33,183.94 L241.88,183.88 L242.42,183.83 L242.96,183.78 L243.51,183.73 L244.05,183.68 L244.6,183.62 L245.14,183.57 L245.69,183.52 L246.23,183.47 L246.78,183.42 L247.32,183.37 L247.86,183.32 L248.41,183.27 L248.95,183.22 L249.5,183.17 L250.04,183.13 L250.59,183.08 L251.13,183.03 L251.68,182.98 L252.22,182.94 L252.76,182.89 L253.31,182.84 L253.85,182.8 L254.4,182.75 L254.94,182.71 L255.49,182.66 L256.03,182.62 L256.58,182.57 L257.12,182.53 L257.67,182.48 L258.21,182.44 L258.75,182.4 L259.3,182.35 L259.84,182.31 L260.39,182.27 L260.93,182.22 L261.48,182.18 L262.02,182.14 L262.57,182.1 L263.11,182.06 L263.65,182.02 L264.2,181.98 L264.74,181.94 L265.29,181.9 L265.83,181.86 L266.38,181.82 L266.92,181.78 L267.47,181.74 L268.01,181.7 L268.56,181.66 L269.1,181.62 L269.64,181.58 L270.19,181.55 L270.73,181.51 L271.28,181.47 L271.82,181.43 L272.37,181.4 L272.91,181.36 L273.46,181.32 L274,181.29 L274.55,181.25 L275.09,181.22 L275.63,181.18 L276.18,181.15 L276.72,181.11 L277.27,181.08 L277.81,181.04 L278.36,181.01 L278.9,180.97 L279.45,180.94 L279.99,180.91 L280.53,180.87 L281.08,180.84 L281.62,180.81 L282.17,180.78 L282.71,180.74 L283.26,180.71 L283.8,180.68 L284.35,180.65 L284.89,180.62 L285.44,180.58 L285.98,180.55 L286.52,180.52 L287.07,180.49 L287.61,180.46 L288.16,180.43 L288.7,180.4 L289.25,180.37 L289.79,180.34 L290.34,180.31 L290.88,180.28 L291.42,180.26 L291.97,180.23 L292.51,180.2 L293.06,180.17 L293.6,180.14 L294.15,180.11 L294.69,180.09 L295.24,180.06 L295.78,180.03 L296.32,180 L296.87,179.98 L297.41,179.95 L297.96,179.92 L298.5,179.9 L299.05,179.87 L299.59,179.85 L300.14,179.82 L300.68,179.8 L301.23,179.77 L301.77,179.75 L302.31,179.72 L302.86,179.7 L303.4,179.67 L303.95,179.65 L304.49,179.62 L305.04,179.6 L305.58,179.57 L306.13,179.55 L306.67,179.53 L307.21,179.5 L307.76,179.48 L308.3,179.46 L308.85,179.44 L309.39,179.41 L309.94,179.39 L310.48,179.37 L311.03,179.35 L311.57,179.33 L312.12,179.3 L312.66,179.28 L313.2,179.26 L313.75,179.24 L314.29,179.22 L314.84,179.2 L315.38,179.18 L315.93,179.16 L316.47,179.14 L317.02,179.12 L317.56,179.1 L318.11,179.08 L318.65,179.06 L319.19,179.04 L319.74,179.02 L320.28,179 L320.83,178.98 L321.37,178.96 L321.92,178.94 L322.46,178.92 L323.01,178.91 L323.55,178.89 L324.09,178.87 L324.64,178.85 L325.18,178.83 L325.73,178.82 L326.27,178.8 L326.82,178.78 L327.36,178.76 L327.91,178.75 L328.45,178.73 L329,178.71 L329.54,178.7 L330.08,178.68 L330.63,178.67 L331.17,178.65 L331.72,178.63 L332.26,178.62 L332.81,178.6 L333.35,178.59 L333.9,178.57 L334.44,178.56 L334.98,178.54 L335.53,178.53 L336.07,178.51 L336.62,178.5 L337.16,178.48 L337.71,178.47 L338.25,178.45 L338.8,178.44 L339.34,178.43 L339.88,178.41 L340.43,178.4 L340.97,178.38 L341.52,178.37 L342.06,178.36 L342.61,178.34 L343.15,178.33 L343.7,178.32 L344.24,178.31 L344.79,178.29 L345.33,178.28 L345.87,178.27 L346.42,178.26 L346.96,178.24 L347.51,178.23 L348.05,178.22 L348.6,178.21 L349.14,178.2 L349.69,178.19 L350.23,178.18 L350.78,178.16 L351.32,178.15 L351.86,178.14 L352.41,178.13 L352.95,178.12 L353.5,178.11 L354.04,178.1 L354.59,178.09 L355.13,178.08 L355.68,178.07 L356.22,178.06 L356.76,178.05 L357.31,178.04 L357.85,178.03 L358.4,178.02 L358.94,178.01 L359.49,178 L360.03,177.99 L360.58,177.98 L361.12,177.98 L361.67,177.97 L362.21,177.96 L362.75,177.95 L363.3,177.94 L363.84,177.93 L364.39,177.93 L364.93,177.92 L365.48,177.91 L366.02,177.9 L366.57,177.89 L367.11,177.89 L367.65,177.88 L368.2,177.87 L368.74,177.86 L369.29,177.86 L369.83,177.85 L370.38,177.84 L370.92,177.84 L371.47,177.83 L372.01,177.82 L372.56,177.82 L373.1,177.81 L373.64,177.8 L374.19,177.8 L374.73,177.79 L375.28,177.79 L375.82,177.78 L376.37,177.77 L376.91,177.77 L377.46,177.76 L378,177.76" fill="none" stroke="#101090" stroke-width="1.05"/>
<path d="M51.3,309.2 L51.57,307.19 L51.84,305.36 L52.12,303.61 L52.39,301.94 L52.66,300.35 L52.93,298.81 L53.21,297.34 L53.48,295.92 L53.75,294.55 L54.02,293.24 L54.29,291.96 L54.57,290.73 L54.84,289.54 L55.11,288.38 L55.38,287.26 L55.66,286.17 L55.93,285.11 L56.2,284.08 L56.47,283.08 L56.74,282.1 L57.02,281.15 L57.29,280.22 L57.56,279.32 L57.83,278.43 L58.11,277.57 L58.38,276.72 L58.65,275.9 L58.92,275.09 L59.2,274.3 L59.47,273.52 L59.74,272.76 L60.01,272.02 L60.28,271.28 L60.56,270.57 L60.83,269.86 L61.1,269.17 L61.37,268.49 L61.65,267.83 L61.92,267.17 L62.19,266.53 L62.46,265.9 L62.73,265.27 L63.01,264.66 L63.28,264.06 L63.55,263.47 L63.82,262.88 L64.1,262.31 L64.37,261.74 L64.64,261.18 L64.91,260.63 L65.18,260.09 L65.46,259.56 L65.73,259.03 L66,258.51 L66.27,258 L66.55,257.49 L66.82,256.99 L67.09,256.5 L67.36,256.01 L67.63,255.53 L67.91,255.06 L68.18,254.59 L68.45,254.13 L68.72,253.67 L69,253.22 L69.27,252.78 L69.54,252.34 L69.81,251.9 L70.09,251.47 L70.36,251.04 L70.63,250.62 L70.9,250.21 L71.17,249.79 L71.45,249.39 L71.72,248.98 L71.99,248.59 L72.26,248.19 L72.54,247.8 L72.81,247.42 L73.08,247.03 L73.62,246.28 L74.17,245.54 L74.71,244.82 L75.26,244.11 L75.8,243.41 L76.35,242.73 L76.89,242.05 L77.44,241.39 L77.98,240.74 L78.53,240.11 L79.07,239.48 L79.61,238.86 L80.16,238.26 L80.7,237.66 L81.25,237.07 L81.79,236.49 L82.34,235.93 L82.88,235.36 L83.43,234.81 L83.97,234.27 L84.51,233.75 L85.06,233.24 L85.6,232.73 L86.15,232.23 L86.69,231.74 L87.24,231.26 L87.78,230.78 L88.33,230.31 L88.87,229.85 L89.41,229.39 L89.96,228.94 L90.5,228.49 L91.05,228.05 L91.59,227.62 L92.14,227.19 L92.68,226.76 L93.23,226.34 L93.77,225.93 L94.32,225.52 L94.86,225.12 L95.4,224.72 L95.95,224.32 L96.49,223.94 L97.04,223.55 L97.58,223.17 L98.13,222.79 L98.67,222.42 L99.22,222.05 L99.76,221.69 L100.31,221.33 L100.85,220.97 L101.39,220.62 L101.94,220.27 L102.48,219.92 L103.03,219.58 L103.57,219.24 L104.12,218.91 L104.66,218.57 L105.21,218.25 L105.75,217.92 L106.29,217.6 L106.84,217.28 L107.38,216.96 L107.93,216.65 L108.47,216.34 L109.02,216.03 L109.56,215.73 L110.11,215.43 L110.65,215.13 L111.19,214.84 L111.74,214.54 L112.28,214.25 L112.83,213.97 L113.37,213.68 L113.92,213.4 L114.46,213.12 L115.01,212.84 L115.55,212.57 L116.1,212.3 L116.64,212.03 L117.18,211.76 L117.73,211.49 L118.27,211.23 L118.82,210.97 L119.36,210.71 L119.91,210.46 L120.45,210.21 L121,209.95 L121.54,209.71 L122.08,209.46 L122.63,209.21 L123.17,208.97 L123.72,208.73 L124.26,208.49 L124.81,208.26 L125.35,208.02 L125.9,207.79 L126.44,207.56 L126.99,207.33 L127.53,207.1 L128.07,206.88 L128.62,206.66 L129.16,206.44 L129.71,206.22 L130.25,206 L130.8,205.78 L131.34,205.57 L131.89,205.36 L132.43,205.15 L132.97,204.94 L133.52,204.73 L134.06,204.53 L134.61,204.32 L135.15,204.12 L135.7,203.92 L136.24,203.72 L136.79,203.53 L137.33,203.33 L137.88,203.14 L138.42,202.94 L138.96,202.75 L139.51,202.56 L140.05,202.37 L140.6,202.19 L141.14,202 L141.69,201.82 L142.23,201.64 L142.78,201.46 L143.32,201.28 L143.87,201.1 L144.41,200.92 L144.95,200.75 L145.5,200.57 L146.04,200.4 L146.59,200.23 L147.13,200.06 L147.68,199.89 L148.22,199.72 L148.77,199.55 L149.31,199.39 L149.85,199.22 L150.4,199.06 L150.94,198.9 L151.49,198.74 L152.03,198.58 L152.58,198.42 L153.12,198.27 L153.67,198.11 L154.21,197.96 L154.75,197.8 L155.3,197.65 L155.84,197.5 L156.39,197.35 L156.93,197.2 L157.48,197.05 L158.02,196.91 L158.57,196.76 L159.11,196.61 L159.66,196.47 L160.2,196.33 L160.74,196.19 L161.29,196.05 L161.83,195.91 L162.38,195.77 L162.92,195.63 L163.47,195.49 L164.01,195.36 L164.56,195.22 L165.1,195.09 L165.64,194.96 L166.19,194.82 L166.73,194.69 L167.28,194.56 L167.82,194.43 L168.37,194.3 L168.91,194.18 L169.46,194.05 L170,193.92 L170.55,193.8 L171.09,193.68 L171.63,193.55 L172.18,193.43 L172.72,193.31 L173.27,193.19 L173.81,193.07 L174.36,192.95 L174.9,192.83 L175.45,192.71 L175.99,192.6 L176.53,192.48 L177.08,192.37 L177.62,192.25 L178.17,192.14 L178.71,192.03 L179.26,191.91 L179.8,191.8 L180.35,191.69 L180.89,191.58 L181.44,191.47 L181.98,191.37 L182.52,191.26 L183.07,191.15 L183.61,191.05 L184.16,190.94 L184.7,190.84 L185.25,190.73 L185.79,190.63 L186.34,190.53 L186.88,190.42 L187.43,190.32 L187.97,190.22 L188.51,190.12 L189.06,190.02 L189.6,189.92 L190.15,189.83 L190.69,189.73 L191.24,189.63 L191.78,189.54 L192.33,189.44 L192.87,189.35 L193.41,189.25 L193.96,189.16 L194.5,189.06 L195.05,188.97 L195.59,188.88 L196.14,188.79 L196.68,188.7 L197.23,188.61 L197.77,188.52 L198.31,188.43 L198.86,188.34 L199.4,188.26 L199.95,188.17 L200.49,188.08 L201.04,188 L201.58,187.91 L202.13,187.83 L202.67,187.74 L203.22,187.66 L203.76,187.57 L204.3,187.49 L204.85,187.41 L205.39,187.33 L205.94,187.25 L206.48,187.17 L207.03,187.09 L207.57,187.01 L208.12,186.93 L208.66,186.85 L209.2,186.77 L209.75,186.69 L210.29,186.62 L210.84,186.54 L211.38,186.46 L211.93,186.39 L212.47,186.31 L213.02,186.24 L213.56,186.16 L214.11,186.09 L214.65,186.02 L215.19,185.94 L215.74,185.87 L216.28,185.8 L216.83,185.73 L217.37,185.66 L217.92,185.59 L218.46,185.52 L219.01,185.45 L219.55,185.38 L220.09,185.31 L220.64,185.24 L221.18,185.17 L221.73,185.11 L222.27,185.04 L222.82,184.97 L223.36,184.91 L223.91,184.84 L224.45,184.78 L225,184.71 L225.54,184.65 L226.08,184.58 L226.63,184.52 L227.17,184.46 L227.72,184.39 L228.26,184.33 L228.81,184.27 L229.35,184.21 L229.9,184.15 L230.44,184.09 L230.99,184.03 L231.53,183.97 L232.07,183.91 L232.62,183.85 L233.16,183.79 L233.71,183.73 L234.25,183.67 L234.8,183.61 L235.34,183.56 L235.89,183.5 L236.43,183.44 L236.97,183.39 L237.52,183.33 L238.06,183.27 L238.61,183.22 L239.15,183.16 L239.7,183.11 L240.24,183.06 L240.79,183 L241.33,182.95 L241.88,182.89 L242.42,182.84 L242.96,182.79 L243.51,182.74 L244.05,182.69 L244.6,182.63 L245.14,182.58 L245.69,182.53 L246.23,182.48 L246.78,182.43 L247.32,182.38 L247.86,182.33 L248.41,182.28 L248.95,182.23 L249.5,182.19 L250.04,182.14 L250.59,182.09 L251.13,182.04 L251.68,181.99 L252.22,181.95 L252.76,181.9 L253.31,181.85 L253.85,181.81 L254.4,181.76 L254.94,181.72 L255.49,181.67 L256.03,181.63 L256.58,181.58 L257.12,181.54 L257.67,181.49 L258.21,181.45 L258.75,181.41 L259.3,181.36 L259.84,181.32 L260.39,181.28 L260.93,181.23 L261.48,181.19 L262.02,181.15 L262.57,181.11 L263.11,181.07 L263.65,181.03 L264.2,180.99 L264.74,180.95 L265.29,180.91 L265.83,180.87 L266.38,180.83 L266.92,180.79 L267.47,180.75 L268.01,180.71 L268.56,180.67 L269.1,180.63 L269.64,180.59 L270.19,180.56 L270.73,180.52 L271.28,180.48 L271.82,180.44 L272.37,180.41 L272.91,180.37 L273.46,180.33 L274,180.3 L274.55,180.26 L275.09,180.23 L275.63,180.19 L276.18,180.16 L276.72,180.12 L277.27,180.09 L277.81,180.05 L278.36,180.02 L278.9,179.98 L279.45,179.95 L279.99,179.92 L280.53,179.88 L281.08,179.85 L281.62,179.82 L282.17,179.79 L282.71,179.75 L283.26,179.72 L283.8,179.69 L284.35,179.66 L284.89,179.63 L285.44,179.59 L285.98,179.56 L286.52,179.53 L287.07,179.5 L287.61,179.47 L288.16,179.44 L288.7,179.41 L289.25,179.38 L289.79,179.35 L290.34,179.32 L290.88,179.29 L291.42,179.27 L291.97,179.24 L292.51,179.21 L293.06,179.18 L293.6,179.15 L294.15,179.12 L294.69,179.1 L295.24,179.07 L295.78,179.04 L296.32,179.02 L296.87,178.99 L297.41,178.96 L297.96,178.94 L298.5,178.91 L299.05,178.88 L299.59,178.86 L300.14,178.83 L300.68,178.81 L301.23,178.78 L301.77,178.76 L302.31,178.73 L302.86,178.71 L303.4,178.68 L303.95,178.66 L304.49,178.63 L305.04,178.61 L305.58,178.59 L306.13,178.56 L306.67,178.54 L307.21,178.52 L307.76,178.49 L308.3,178.47 L308.85,178.45 L309.39,178.42 L309.94,178.4 L310.48,178.38 L311.03,178.36 L311.57,178.34 L312.12,178.31 L312.66,178.29 L313.2,178.27 L313.75,178.25 L314.29,178.23 L314.84,178.21 L315.38,178.19 L315.93,178.17 L316.47,178.15 L317.02,178.13 L317.56,178.11 L318.11,178.09 L318.65,178.07 L319.19,178.05 L319.74,178.03 L320.28,178.01 L320.83,177.99 L321.37,177.97 L321.92,177.95 L322.46,177.93 L323.01,177.92 L323.55,177.9 L324.09,177.88 L324.64,177.86 L325.18,177.84 L325.73,177.83 L326.27,177.81 L326.82,177.79 L327.36,177.77 L327.91,177.76 L328.45,177.74 L329,177.72 L329.54,177.71 L330.08,177.69 L330.63,177.68 L331.17,177.66 L331.72,177.64 L332.26,177.63 L332.81,177.61 L333.35,177.6 L333.9,177.58 L334.44,177.57 L334.98,177.55 L335.53,177.54 L336.07,177.52 L336.62,177.51 L337.16,177.49 L337.71,177.48 L338.25,177.46 L338.8,177.45 L339.34,177.44 L339.88,177.42 L340.43,177.41 L340.97,177.39 L341.52,177.38 L342.06,177.37 L342.61,177.36 L343.15,177.34 L343.7,177.33 L344.24,177.32 L344.79,177.3 L345.33,177.29 L345.87,177.28 L346.42,177.27 L346.96,177.26 L347.51,177.24 L348.05,177.23 L348.6,177.22 L349.14,177.21 L349.69,177.2 L350.23,177.19 L350.78,177.17 L351.32,177.16 L351.86,177.15 L352.41,177.14 L352.95,177.13 L353.5,177.12 L354.04,177.11 L354.59,177.1 L355.13,177.09 L355.68,177.08 L356.22,177.07 L356.76,177.06 L357.31,177.05 L357.85,177.04 L358.4,177.03 L358.94,177.02 L359.49,177.01 L360.03,177 L360.58,176.99 L361.12,176.99 L361.67,176.98 L362.21,176.97 L362.75,176.96 L363.3,176.95 L363.84,176.94 L364.39,176.94 L364.93,176.93 L365.48,176.92 L366.02,176.91 L366.57,176.9 L367.11,176.9 L367.65,176.89 L368.2,176.88 L368.74,176.87 L369.29,176.87 L369.83,176.86 L370.38,176.85 L370.92,176.85 L371.47,176.84 L372.01,176.83 L372.56,176.83 L373.1,176.82 L373.64,176.81 L374.19,176.81 L374.73,176.8 L375.28,176.8 L375.82,176.79 L376.37,176.78 L376.91,176.78 L377.46,176.77 L378,176.77" fill="none" stroke="#101090" stroke-width="1.3" stroke-dasharray="4.4,4.4"/>
</g>
<path d="M88.39,236.11 h13.6 M95.19,231.38 v9.46" stroke="#ff0000" stroke-width="1.1" fill="none"/><circle cx="95.19" cy="236.11" r="2.7" fill="#ff0000"/>
<path d="M115.58,218.18 h13 M122.08,211.09 v14.18" stroke="#ff0000" stroke-width="1.1" fill="none"/><circle cx="122.08" cy="218.18" r="2.7" fill="#ff0000"/>
<path d="M136.85,201.91 h13.6 M143.65,196.4 v11.03" stroke="#ff0000" stroke-width="1.1" fill="none"/><circle cx="143.65" cy="201.91" r="2.7" fill="#ff0000"/>
<path d="M165.09,192.57 h12 M171.09,188.63 v7.88" stroke="#ff0000" stroke-width="1.1" fill="none"/><circle cx="171.09" cy="192.57" r="2.7" fill="#ff0000"/>
<path d="M185.54,189.42 h14 M192.54,185.48 v7.88" stroke="#ff0000" stroke-width="1.1" fill="none"/><circle cx="192.54" cy="189.42" r="2.7" fill="#ff0000"/>
<path d="M217.54,184.69 h16 M225.54,178.78 v11.82" stroke="#ff0000" stroke-width="1.1" fill="none"/><circle cx="225.54" cy="184.69" r="2.7" fill="#ff0000"/>
<path d="M238.86,178.39 h18 M247.86,173.47 v9.85" stroke="#ff0000" stroke-width="1.1" fill="none"/><circle cx="247.86" cy="178.39" r="2.7" fill="#ff0000"/>
<path d="M269.79,173.66 h18 M278.79,169.72 v7.88" stroke="#ff0000" stroke-width="1.1" fill="none"/><circle cx="278.79" cy="173.66" r="2.7" fill="#ff0000"/>
<path d="M299.21,175.44 h16 M307.21,171.5 v7.88" stroke="#ff0000" stroke-width="1.1" fill="none"/><circle cx="307.21" cy="175.44" r="2.7" fill="#ff0000"/>
<path d="M309.11,176.81 h18 M318.11,172.87 v7.88" stroke="#ff0000" stroke-width="1.1" fill="none"/><circle cx="318.11" cy="176.81" r="2.7" fill="#ff0000"/>
<path d="M345.22,180.75 h22 M356.22,174.84 v11.82" stroke="#ff0000" stroke-width="1.1" fill="none"/><circle cx="356.22" cy="180.75" r="2.7" fill="#ff0000"/>
<rect x="51.3" y="150.85" width="326.7" height="158.35" fill="none" stroke="#111" stroke-width="1.1"/>
<path d="M51.3,309.2 v-3.9 M51.3,150.85 v3.9 M105.75,309.2 v-3.9 M105.75,150.85 v3.9 M160.2,309.2 v-3.9 M160.2,150.85 v3.9 M214.65,309.2 v-3.9 M214.65,150.85 v3.9 M269.1,309.2 v-3.9 M269.1,150.85 v3.9 M323.55,309.2 v-3.9 M323.55,150.85 v3.9 M378,309.2 v-3.9 M378,150.85 v3.9 M51.3,309.2 h3.9 M378.0,309.2 h-3.9 M51.3,269.61 h3.9 M378.0,269.61 h-3.9 M51.3,230.02 h3.9 M378.0,230.02 h-3.9 M51.3,190.44 h3.9 M378.0,190.44 h-3.9 M51.3,150.85 h3.9 M378.0,150.85 h-3.9" stroke="#111" stroke-width="1.0" fill="none"/>
<g font-family="Liberation Sans, sans-serif" font-size="13" fill="#3a3a3a">
<text x="45.1" y="115.65" text-anchor="end" font-size="13.5" textLength="18.07" lengthAdjust="spacingAndGlyphs">0.0</text>
<text x="45.1" y="95.17" text-anchor="end" font-size="13.5" textLength="18.07" lengthAdjust="spacingAndGlyphs">0.2</text>
<text x="45.1" y="74.69" text-anchor="end" font-size="13.5" textLength="18.07" lengthAdjust="spacingAndGlyphs">0.4</text>
<text x="45.1" y="54.21" text-anchor="end" font-size="13.5" textLength="18.07" lengthAdjust="spacingAndGlyphs">0.6</text>
<text x="45.1" y="33.73" text-anchor="end" font-size="13.5" textLength="18.07" lengthAdjust="spacingAndGlyphs">0.8</text>
<text x="45.1" y="13.25" text-anchor="end" font-size="13.5" textLength="18.07" lengthAdjust="spacingAndGlyphs">1.0</text>
<text x="51.1" y="128.3" text-anchor="middle" font-size="13.5" textLength="7.23" lengthAdjust="spacingAndGlyphs">0</text>
<text x="105.53" y="128.3" text-anchor="middle" font-size="13.5" textLength="7.23" lengthAdjust="spacingAndGlyphs">1</text>
<text x="159.97" y="128.3" text-anchor="middle" font-size="13.5" textLength="7.23" lengthAdjust="spacingAndGlyphs">2</text>
<text x="214.4" y="128.3" text-anchor="middle" font-size="13.5" textLength="7.23" lengthAdjust="spacingAndGlyphs">3</text>
<text x="268.83" y="128.3" text-anchor="middle" font-size="13.5" textLength="7.23" lengthAdjust="spacingAndGlyphs">4</text>
<text x="323.27" y="128.3" text-anchor="middle" font-size="13.5" textLength="7.23" lengthAdjust="spacingAndGlyphs">5</text>
<text x="377.7" y="128.3" text-anchor="middle" font-size="13.5" textLength="7.23" lengthAdjust="spacingAndGlyphs">6</text>
<text x="45.1" y="314.2" text-anchor="end" font-size="13.5" textLength="18.07" lengthAdjust="spacingAndGlyphs">0.0</text>
<text x="45.1" y="274.61" text-anchor="end" font-size="13.5" textLength="18.07" lengthAdjust="spacingAndGlyphs">0.2</text>
<text x="45.1" y="235.02" text-anchor="end" font-size="13.5" textLength="18.07" lengthAdjust="spacingAndGlyphs">0.4</text>
<text x="45.1" y="195.44" text-anchor="end" font-size="13.5" textLength="18.07" lengthAdjust="spacingAndGlyphs">0.6</text>
<text x="45.1" y="155.85" text-anchor="end" font-size="13.5" textLength="18.07" lengthAdjust="spacingAndGlyphs">0.8</text>
<text x="51.5" y="323.2" text-anchor="middle" font-size="13.5" textLength="7.51" lengthAdjust="spacingAndGlyphs">0</text>
<text x="105.95" y="323.2" text-anchor="middle" font-size="13.5" textLength="15.02" lengthAdjust="spacingAndGlyphs">50</text>
<text x="160.4" y="323.2" text-anchor="middle" font-size="13.5" textLength="22.52" lengthAdjust="spacingAndGlyphs">100</text>
<text x="214.85" y="323.2" text-anchor="middle" font-size="13.5" textLength="22.52" lengthAdjust="spacingAndGlyphs">150</text>
<text x="269.3" y="323.2" text-anchor="middle" font-size="13.5" textLength="22.52" lengthAdjust="spacingAndGlyphs">200</text>
<text x="323.75" y="323.2" text-anchor="middle" font-size="13.5" textLength="22.52" lengthAdjust="spacingAndGlyphs">250</text>
<text x="378.2" y="323.2" text-anchor="middle" font-size="13.5" textLength="22.52" lengthAdjust="spacingAndGlyphs">300</text>
<text x="213.9" y="141.6" text-anchor="middle" font-size="13.3" textLength="56" lengthAdjust="spacingAndGlyphs">Time (µs)</text>
<text x="216" y="339.6" text-anchor="middle" font-size="13.3" textLength="78.2" lengthAdjust="spacingAndGlyphs">Optical depth</text>
<text transform="translate(12.6,58.7) rotate(-90)" text-anchor="middle" font-size="13.3" textLength="75.5" lengthAdjust="spacingAndGlyphs">Counts (a.u.)</text>
<text transform="translate(13.2,229.7) rotate(-90)" text-anchor="middle" font-size="13.3" textLength="105.3" lengthAdjust="spacingAndGlyphs">Memory efficiency</text>
<text x="63.3" y="24.8" font-weight="bold" font-size="17" fill="#000">a</text>
<text x="62.7" y="177.6" font-weight="bold" font-size="17" fill="#000">b</text>
<text x="195.3" y="22.2" textLength="56.6" lengthAdjust="spacingAndGlyphs" font-size="13.5">reference</text>
<text x="195.3" y="40.9" textLength="56.4" lengthAdjust="spacingAndGlyphs" font-size="13.5">slow light</text>
<text x="293.7" y="21.9" textLength="48.3" lengthAdjust="spacingAndGlyphs" font-size="13.5">memory</text>
<text x="293.7" y="41.0" textLength="40.3" lengthAdjust="spacingAndGlyphs" font-size="13.5">control</text>
<text x="287.4" y="234.8" text-anchor="end" font-size="13.5" textLength="25.6" lengthAdjust="spacingAndGlyphs">data</text>
<text x="287.4" y="256" text-anchor="end" font-size="13.5" textLength="101.6" lengthAdjust="spacingAndGlyphs">all Zeeman levels</text>
<text x="287.4" y="275.2" text-anchor="end" font-size="13.5" textLength="117.3" lengthAdjust="spacingAndGlyphs">single Zeeman level</text>
</g>
<path d="M177,18.75 h13.9" stroke="#6a6aff" stroke-width="1.5"/>
<path d="M177,37.3 h13.9" stroke="#1f8a1f" stroke-width="1.25"/>
<path d="M274.9,18.75 h14.2" stroke="#ff6a6a" stroke-width="1.5"/>
<path d="M274,37 h13" stroke="#333" stroke-width="1.3" stroke-dasharray="4.4,4.4"/>
<path d="M302.1,230.4 h11.4 M307.8,224.6 v11.6" stroke="#ff0000" stroke-width="1.1" fill="none"/><circle cx="307.8" cy="230.4" r="2.7" fill="#ff0000"/>
<path d="M298.8,253.2 h18.4" stroke="#101090" stroke-width="1.05"/><path d="M321.2,253.2 h25" stroke="#101090" stroke-width="1.3" stroke-dasharray="5,4.9"/>
<path d="M298.8,272.2 h18.4" stroke="#a01818" stroke-width="1.3"/><path d="M321.2,272.2 h25" stroke="#a01818" stroke-width="1.3" stroke-dasharray="5,4.9"/>
</svg>
</body></html>
